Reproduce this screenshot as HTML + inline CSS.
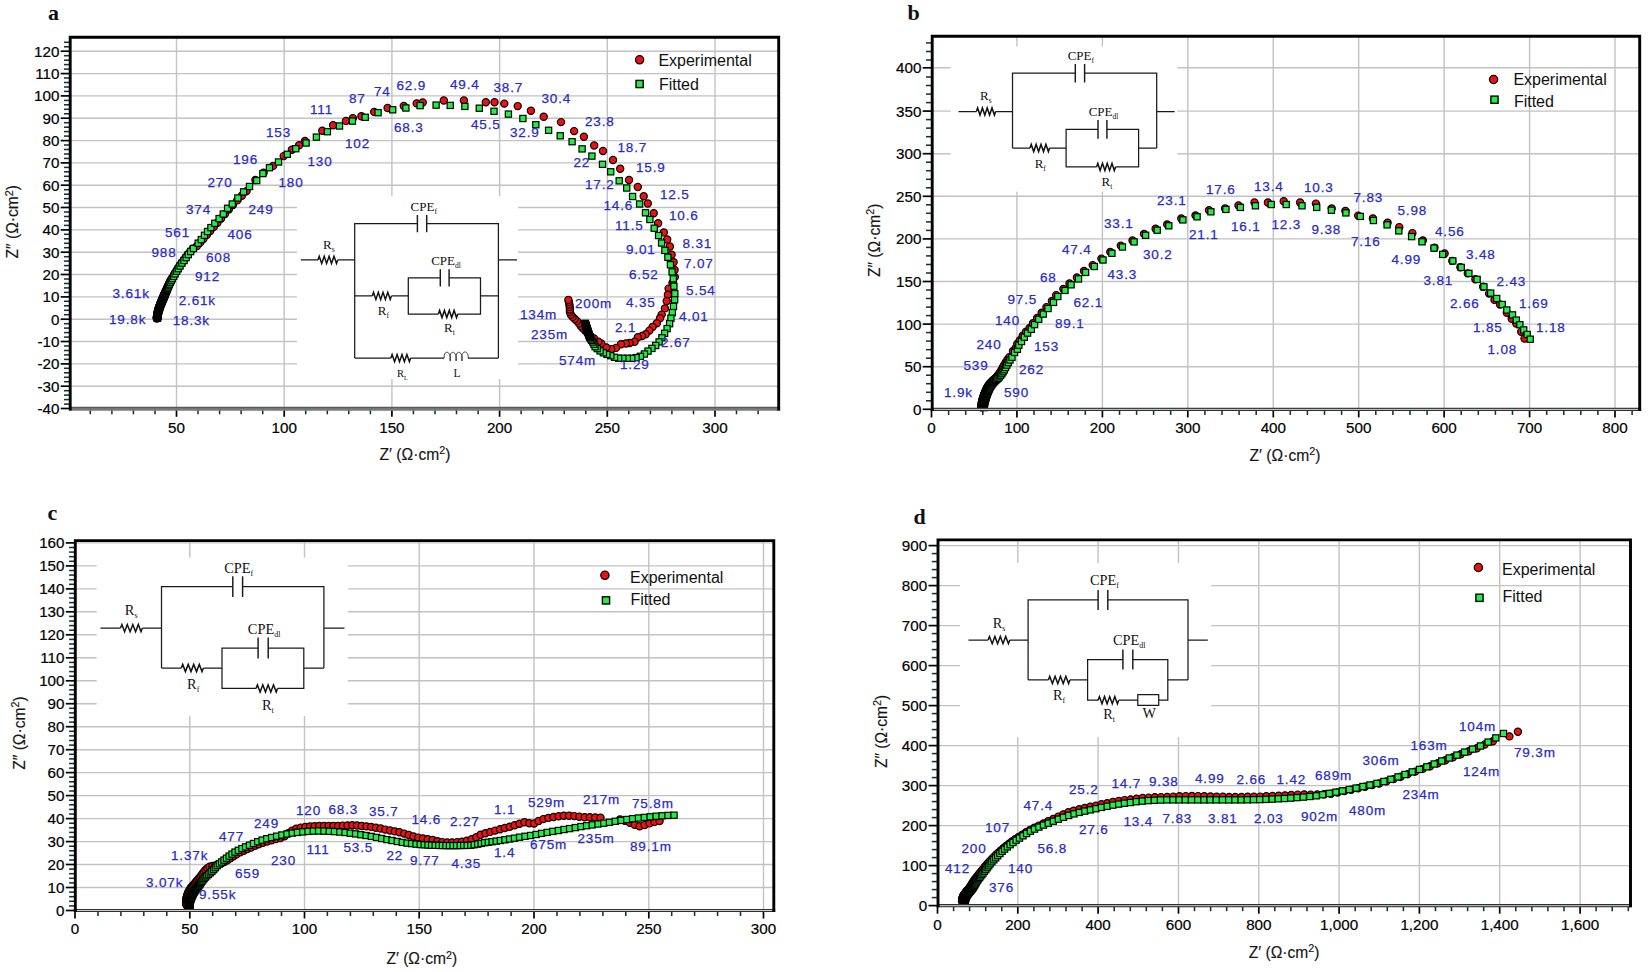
<!DOCTYPE html>
<html lang="en"><head><meta charset="utf-8"><title>Nyquist plots</title>
<style>html,body{margin:0;padding:0;background:#fff}svg{display:block}</style></head>
<body>
<svg width="1650" height="972" viewBox="0 0 1650 972">
<rect width="1650" height="972" fill="#fff"/>
<g stroke="#c4c2c2" stroke-width="1.4" fill="none">
<path d="M70.2 408.5H778.7"/>
<path d="M70.2 386.2H778.7"/>
<path d="M70.2 363.9H778.7"/>
<path d="M70.2 341.5H778.7"/>
<path d="M70.2 319.2H778.7"/>
<path d="M70.2 296.9H778.7"/>
<path d="M70.2 274.5H778.7"/>
<path d="M70.2 252.2H778.7"/>
<path d="M70.2 229.9H778.7"/>
<path d="M70.2 207.5H778.7"/>
<path d="M70.2 185.2H778.7"/>
<path d="M70.2 162.9H778.7"/>
<path d="M70.2 140.6H778.7"/>
<path d="M70.2 118.2H778.7"/>
<path d="M70.2 95.9H778.7"/>
<path d="M70.2 73.6H778.7"/>
<path d="M70.2 51.2H778.7"/>
<path d="M176.5 37.2V408.8"/>
<path d="M284.2 37.2V408.8"/>
<path d="M391.9 37.2V408.8"/>
<path d="M499.6 37.2V408.8"/>
<path d="M607.3 37.2V408.8"/>
<path d="M715 37.2V408.8"/>
</g>
<rect x="297" y="196" width="221" height="183" fill="#fff"/>
<g stroke="#123634" stroke-width="1.55">
<path d="M64 404.1H70.2"/>
<path d="M64 399.6H70.2"/>
<path d="M64 395.1H70.2"/>
<path d="M64 390.7H70.2"/>
<path d="M64 381.7H70.2"/>
<path d="M64 377.3H70.2"/>
<path d="M64 372.8H70.2"/>
<path d="M64 368.3H70.2"/>
<path d="M64 359.4H70.2"/>
<path d="M64 354.9H70.2"/>
<path d="M64 350.5H70.2"/>
<path d="M64 346H70.2"/>
<path d="M64 337.1H70.2"/>
<path d="M64 332.6H70.2"/>
<path d="M64 328.1H70.2"/>
<path d="M64 323.7H70.2"/>
<path d="M64 314.7H70.2"/>
<path d="M64 310.3H70.2"/>
<path d="M64 305.8H70.2"/>
<path d="M64 301.3H70.2"/>
<path d="M64 292.4H70.2"/>
<path d="M64 287.9H70.2"/>
<path d="M64 283.5H70.2"/>
<path d="M64 279H70.2"/>
<path d="M64 270.1H70.2"/>
<path d="M64 265.6H70.2"/>
<path d="M64 261.1H70.2"/>
<path d="M64 256.7H70.2"/>
<path d="M64 247.7H70.2"/>
<path d="M64 243.3H70.2"/>
<path d="M64 238.8H70.2"/>
<path d="M64 234.3H70.2"/>
<path d="M64 225.4H70.2"/>
<path d="M64 220.9H70.2"/>
<path d="M64 216.5H70.2"/>
<path d="M64 212H70.2"/>
<path d="M64 203.1H70.2"/>
<path d="M64 198.6H70.2"/>
<path d="M64 194.2H70.2"/>
<path d="M64 189.7H70.2"/>
<path d="M64 180.8H70.2"/>
<path d="M64 176.3H70.2"/>
<path d="M64 171.8H70.2"/>
<path d="M64 167.4H70.2"/>
<path d="M64 158.4H70.2"/>
<path d="M64 154H70.2"/>
<path d="M64 149.5H70.2"/>
<path d="M64 145H70.2"/>
<path d="M64 136.1H70.2"/>
<path d="M64 131.6H70.2"/>
<path d="M64 127.2H70.2"/>
<path d="M64 122.7H70.2"/>
<path d="M64 113.8H70.2"/>
<path d="M64 109.3H70.2"/>
<path d="M64 104.8H70.2"/>
<path d="M64 100.4H70.2"/>
<path d="M64 91.4H70.2"/>
<path d="M64 87H70.2"/>
<path d="M64 82.5H70.2"/>
<path d="M64 78H70.2"/>
<path d="M64 69.1H70.2"/>
<path d="M64 64.6H70.2"/>
<path d="M64 60.2H70.2"/>
<path d="M64 55.7H70.2"/>
<path d="M64 46.8H70.2"/>
<path d="M64 42.3H70.2"/>
<path d="M90.3 408.8V414.3"/>
<path d="M111.9 408.8V414.3"/>
<path d="M133.4 408.8V414.3"/>
<path d="M155 408.8V414.3"/>
<path d="M198 408.8V414.3"/>
<path d="M219.6 408.8V414.3"/>
<path d="M241.1 408.8V414.3"/>
<path d="M262.7 408.8V414.3"/>
<path d="M305.7 408.8V414.3"/>
<path d="M327.3 408.8V414.3"/>
<path d="M348.8 408.8V414.3"/>
<path d="M370.4 408.8V414.3"/>
<path d="M413.4 408.8V414.3"/>
<path d="M435 408.8V414.3"/>
<path d="M456.5 408.8V414.3"/>
<path d="M478.1 408.8V414.3"/>
<path d="M521.1 408.8V414.3"/>
<path d="M542.7 408.8V414.3"/>
<path d="M564.2 408.8V414.3"/>
<path d="M585.8 408.8V414.3"/>
<path d="M628.8 408.8V414.3"/>
<path d="M650.4 408.8V414.3"/>
<path d="M671.9 408.8V414.3"/>
<path d="M693.5 408.8V414.3"/>
<path d="M736.5 408.8V414.3"/>
<path d="M758.1 408.8V414.3"/>
</g>
<g stroke="#000" stroke-width="1.7">
<path d="M60.7 408.5H70.2"/>
<path d="M60.7 386.2H70.2"/>
<path d="M60.7 363.9H70.2"/>
<path d="M60.7 341.5H70.2"/>
<path d="M60.7 319.2H70.2"/>
<path d="M60.7 296.9H70.2"/>
<path d="M60.7 274.5H70.2"/>
<path d="M60.7 252.2H70.2"/>
<path d="M60.7 229.9H70.2"/>
<path d="M60.7 207.5H70.2"/>
<path d="M60.7 185.2H70.2"/>
<path d="M60.7 162.9H70.2"/>
<path d="M60.7 140.6H70.2"/>
<path d="M60.7 118.2H70.2"/>
<path d="M60.7 95.9H70.2"/>
<path d="M60.7 73.6H70.2"/>
<path d="M60.7 51.2H70.2"/>
<path d="M176.5 408.8V416.8"/>
<path d="M284.2 408.8V416.8"/>
<path d="M391.9 408.8V416.8"/>
<path d="M499.6 408.8V416.8"/>
<path d="M607.3 408.8V416.8"/>
<path d="M715 408.8V416.8"/>
</g>
<g fill="#000" stroke="#000" stroke-width="0.2" font-family="'Liberation Sans', Arial, sans-serif" font-size="15.2">
<text x="59.4" y="414" text-anchor="end">-40</text>
<text x="59.4" y="391.7" text-anchor="end">-30</text>
<text x="59.4" y="369.4" text-anchor="end">-20</text>
<text x="59.4" y="347" text-anchor="end">-10</text>
<text x="59.4" y="324.7" text-anchor="end">0</text>
<text x="59.4" y="302.4" text-anchor="end">10</text>
<text x="59.4" y="280" text-anchor="end">20</text>
<text x="59.4" y="257.7" text-anchor="end">30</text>
<text x="59.4" y="235.4" text-anchor="end">40</text>
<text x="59.4" y="213" text-anchor="end">50</text>
<text x="59.4" y="190.7" text-anchor="end">60</text>
<text x="59.4" y="168.4" text-anchor="end">70</text>
<text x="59.4" y="146.1" text-anchor="end">80</text>
<text x="59.4" y="123.7" text-anchor="end">90</text>
<text x="59.4" y="101.4" text-anchor="end">100</text>
<text x="59.4" y="79.1" text-anchor="end">110</text>
<text x="59.4" y="56.7" text-anchor="end">120</text>
<text x="176.5" y="432.7" text-anchor="middle">50</text>
<text x="284.2" y="432.7" text-anchor="middle">100</text>
<text x="391.9" y="432.7" text-anchor="middle">150</text>
<text x="499.6" y="432.7" text-anchor="middle">200</text>
<text x="607.3" y="432.7" text-anchor="middle">250</text>
<text x="715" y="432.7" text-anchor="middle">300</text>
</g>
<text x="415" y="460" text-anchor="middle" font-family="'Liberation Sans', Arial, sans-serif" font-size="15.6" fill="#151515" stroke="#151515" stroke-width="0.15">Z′ (Ω·cm<tspan font-size="10.8" dy="-5.6">2</tspan><tspan dy="5.6">)</tspan></text>
<text transform="translate(18.2 221.7) rotate(-90)" text-anchor="middle" font-family="'Liberation Sans', Arial, sans-serif" font-size="15.6" fill="#151515" stroke="#151515" stroke-width="0.15">Z″ (Ω·cm<tspan font-size="10.8" dy="-5.6">2</tspan><tspan dy="5.6">)</tspan></text>
<text x="48" y="20.2" font-family="'Liberation Serif', 'Times New Roman', serif" font-size="22" font-weight="bold" fill="#111">a</text>
<g fill="#ee1111" stroke="#000" stroke-width="1.2">
<circle cx="156.8" cy="318.5" r="3.6"/>
<circle cx="156.8" cy="318.1" r="3.6"/>
<circle cx="156.9" cy="317.7" r="3.6"/>
<circle cx="156.9" cy="317.3" r="3.6"/>
<circle cx="157" cy="316.9" r="3.6"/>
<circle cx="157" cy="316.5" r="3.6"/>
<circle cx="157.1" cy="316.1" r="3.6"/>
<circle cx="157.1" cy="315.7" r="3.6"/>
<circle cx="157.2" cy="315.3" r="3.6"/>
<circle cx="157.2" cy="314.8" r="3.6"/>
<circle cx="157.3" cy="314.4" r="3.6"/>
<circle cx="157.4" cy="314" r="3.6"/>
<circle cx="157.4" cy="313.6" r="3.6"/>
<circle cx="157.5" cy="313.2" r="3.6"/>
<circle cx="157.6" cy="312.7" r="3.6"/>
<circle cx="157.7" cy="312.3" r="3.6"/>
<circle cx="157.8" cy="311.9" r="3.6"/>
<circle cx="157.9" cy="311.4" r="3.6"/>
<circle cx="158" cy="311" r="3.6"/>
<circle cx="158.1" cy="310.6" r="3.6"/>
<circle cx="158.2" cy="310.2" r="3.6"/>
<circle cx="158.3" cy="309.7" r="3.6"/>
<circle cx="158.5" cy="309.3" r="3.6"/>
<circle cx="158.6" cy="308.8" r="3.6"/>
<circle cx="158.8" cy="308.4" r="3.6"/>
<circle cx="158.9" cy="308" r="3.6"/>
<circle cx="159.1" cy="307.5" r="3.6"/>
<circle cx="159.2" cy="307.1" r="3.6"/>
<circle cx="159.4" cy="306.6" r="3.6"/>
<circle cx="159.5" cy="306.2" r="3.6"/>
<circle cx="159.7" cy="305.7" r="3.6"/>
<circle cx="159.9" cy="305.3" r="3.6"/>
<circle cx="160" cy="304.8" r="3.6"/>
<circle cx="160.2" cy="304.4" r="3.6"/>
<circle cx="160.4" cy="303.9" r="3.6"/>
<circle cx="160.6" cy="303.5" r="3.6"/>
<circle cx="160.8" cy="303" r="3.6"/>
<circle cx="161" cy="302.6" r="3.6"/>
<circle cx="161.1" cy="302.1" r="3.6"/>
<circle cx="161.3" cy="301.6" r="3.6"/>
<circle cx="161.5" cy="301.2" r="3.6"/>
<circle cx="161.7" cy="300.7" r="3.6"/>
<circle cx="161.9" cy="300.2" r="3.6"/>
<circle cx="162.1" cy="299.7" r="3.6"/>
<circle cx="162.3" cy="299.3" r="3.6"/>
<circle cx="162.5" cy="298.8" r="3.6"/>
<circle cx="162.8" cy="298.3" r="3.6"/>
<circle cx="163" cy="297.8" r="3.6"/>
<circle cx="163.2" cy="297.3" r="3.6"/>
<circle cx="163.4" cy="296.8" r="3.6"/>
<circle cx="163.6" cy="296.3" r="3.6"/>
<circle cx="163.8" cy="295.8" r="3.6"/>
<circle cx="164" cy="295.3" r="3.6"/>
<circle cx="164.2" cy="294.8" r="3.6"/>
<circle cx="164.5" cy="294.3" r="3.6"/>
<circle cx="164.7" cy="293.7" r="3.6"/>
<circle cx="165" cy="293" r="3.6"/>
<circle cx="165.3" cy="292.3" r="3.6"/>
<circle cx="165.7" cy="291.5" r="3.6"/>
<circle cx="166.1" cy="290.6" r="3.6"/>
<circle cx="166.5" cy="289.6" r="3.6"/>
<circle cx="167" cy="288.4" r="3.6"/>
<circle cx="167.5" cy="287.2" r="3.6"/>
<circle cx="168.1" cy="285.9" r="3.6"/>
<circle cx="168.8" cy="284.4" r="3.6"/>
<circle cx="169.6" cy="282.7" r="3.6"/>
<circle cx="170.6" cy="280.9" r="3.6"/>
<circle cx="171.7" cy="278.9" r="3.6"/>
<circle cx="173.1" cy="276.6" r="3.6"/>
<circle cx="174.5" cy="274.1" r="3.6"/>
<circle cx="176.1" cy="271.5" r="3.6"/>
<circle cx="177.7" cy="268.9" r="3.6"/>
<circle cx="179.4" cy="266.2" r="3.6"/>
<circle cx="181.3" cy="263.4" r="3.6"/>
<circle cx="183.4" cy="260.7" r="3.6"/>
<circle cx="185.5" cy="257.8" r="3.6"/>
<circle cx="187.7" cy="254.8" r="3.6"/>
<circle cx="190.1" cy="251.7" r="3.6"/>
<circle cx="192.8" cy="248.7" r="3.6"/>
<circle cx="197" cy="246" r="3.6"/>
<circle cx="200.2" cy="242.4" r="3.6"/>
<circle cx="203.5" cy="238.7" r="3.6"/>
<circle cx="206.8" cy="234.9" r="3.6"/>
<circle cx="210.2" cy="231" r="3.6"/>
<circle cx="213.8" cy="226.9" r="3.6"/>
<circle cx="217.4" cy="222.8" r="3.6"/>
<circle cx="221.1" cy="218.5" r="3.6"/>
<circle cx="224.9" cy="214.1" r="3.6"/>
<circle cx="228.8" cy="209.6" r="3.6"/>
<circle cx="232.9" cy="205" r="3.6"/>
<circle cx="237.2" cy="200.4" r="3.6"/>
<circle cx="241.8" cy="195.7" r="3.6"/>
<circle cx="246.6" cy="191.1" r="3.6"/>
<circle cx="255.4" cy="180" r="3.6"/>
<circle cx="263.6" cy="172.8" r="3.6"/>
<circle cx="273.1" cy="165.9" r="3.6"/>
<circle cx="283.7" cy="156.1" r="3.6"/>
<circle cx="291.9" cy="149.7" r="3.6"/>
<circle cx="299.1" cy="145.3" r="3.6"/>
<circle cx="305" cy="141" r="3.6"/>
<circle cx="322.3" cy="130.7" r="3.6"/>
<circle cx="333.1" cy="125.3" r="3.6"/>
<circle cx="345.9" cy="120.9" r="3.6"/>
<circle cx="352.9" cy="118.3" r="3.6"/>
<circle cx="361.4" cy="116.3" r="3.6"/>
<circle cx="374.2" cy="111.9" r="3.6"/>
<circle cx="387.6" cy="108" r="3.6"/>
<circle cx="403.8" cy="106" r="3.6"/>
<circle cx="416.7" cy="103.4" r="3.6"/>
<circle cx="422.7" cy="102.5" r="3.6"/>
<circle cx="443.8" cy="100.5" r="3.6"/>
<circle cx="463.9" cy="100.5" r="3.6"/>
<circle cx="485.8" cy="102.3" r="3.6"/>
<circle cx="494.5" cy="102.3" r="3.6"/>
<circle cx="504.3" cy="103.6" r="3.6"/>
<circle cx="517.7" cy="106.1" r="3.6"/>
<circle cx="530.9" cy="110.8" r="3.6"/>
<circle cx="543.7" cy="116.7" r="3.6"/>
<circle cx="561" cy="122.1" r="3.6"/>
<circle cx="574.1" cy="131.1" r="3.6"/>
<circle cx="583.9" cy="136.8" r="3.6"/>
<circle cx="594.2" cy="145.5" r="3.6"/>
<circle cx="603" cy="151" r="3.6"/>
<circle cx="613" cy="160" r="3.6"/>
<circle cx="620.2" cy="168.7" r="3.6"/>
<circle cx="629" cy="180" r="3.6"/>
<circle cx="637.8" cy="187" r="3.6"/>
<circle cx="643.7" cy="196.3" r="3.6"/>
<circle cx="647.8" cy="203.5" r="3.6"/>
<circle cx="653.7" cy="213.3" r="3.6"/>
<circle cx="658.1" cy="223.3" r="3.6"/>
<circle cx="663.8" cy="232.4" r="3.6"/>
<circle cx="667.2" cy="239.5" r="3.6"/>
<circle cx="669.9" cy="246.5" r="3.6"/>
<circle cx="671.6" cy="254.8" r="3.6"/>
<circle cx="673.6" cy="262.2" r="3.6"/>
<circle cx="674.6" cy="270" r="3.6"/>
<circle cx="674.8" cy="277" r="3.6"/>
<circle cx="672.5" cy="283" r="3.6"/>
<circle cx="668.6" cy="288.6" r="3.6"/>
<circle cx="667.9" cy="294.8" r="3.6"/>
<circle cx="666.7" cy="301" r="3.6"/>
<circle cx="664.9" cy="308.4" r="3.6"/>
<circle cx="661.7" cy="314.6" r="3.6"/>
<circle cx="660" cy="318.3" r="3.6"/>
<circle cx="656.8" cy="323.2" r="3.6"/>
<circle cx="652.6" cy="326.9" r="3.6"/>
<circle cx="649.4" cy="330.6" r="3.6"/>
<circle cx="645.7" cy="334.3" r="3.6"/>
<circle cx="642" cy="336" r="3.6"/>
<circle cx="637.8" cy="337.3" r="3.6"/>
<circle cx="634.6" cy="341.7" r="3.6"/>
<circle cx="629.6" cy="343" r="3.6"/>
<circle cx="625.9" cy="343.5" r="3.6"/>
<circle cx="621" cy="344.2" r="3.6"/>
<circle cx="616" cy="347.9" r="3.6"/>
<circle cx="611.1" cy="349.1" r="3.6"/>
<circle cx="606.2" cy="347.4" r="3.6"/>
<circle cx="601.2" cy="343.5" r="3.6"/>
<circle cx="598.3" cy="341.7" r="3.6"/>
<circle cx="594" cy="338.5" r="3.6"/>
<circle cx="590" cy="335.5" r="3.6"/>
<circle cx="590" cy="335.5" r="3.6"/>
<circle cx="587.6" cy="333.1" r="3.6"/>
<circle cx="585.3" cy="330.7" r="3.6"/>
<circle cx="582.9" cy="328.4" r="3.6"/>
<circle cx="580.8" cy="326" r="3.6"/>
<circle cx="579" cy="323.4" r="3.6"/>
<circle cx="577" cy="321.1" r="3.6"/>
<circle cx="574.8" cy="319" r="3.6"/>
<circle cx="572.6" cy="316.9" r="3.6"/>
<circle cx="570.9" cy="314.7" r="3.6"/>
<circle cx="569.9" cy="312.1" r="3.6"/>
<circle cx="569.9" cy="309.5" r="3.6"/>
<circle cx="569.7" cy="306.9" r="3.6"/>
<circle cx="569.4" cy="304.5" r="3.6"/>
<circle cx="568.9" cy="302.1" r="3.6"/>
<circle cx="568.4" cy="299.9" r="3.6"/>
</g>
<g fill="#22ee44" stroke="#000" stroke-width="1.2">
<rect x="154.3" y="315.2" width="6.2" height="6.2"/>
<rect x="154.3" y="314.8" width="6.2" height="6.2"/>
<rect x="154.4" y="314.4" width="6.2" height="6.2"/>
<rect x="154.4" y="314" width="6.2" height="6.2"/>
<rect x="154.5" y="313.6" width="6.2" height="6.2"/>
<rect x="154.5" y="313.2" width="6.2" height="6.2"/>
<rect x="154.6" y="312.8" width="6.2" height="6.2"/>
<rect x="154.6" y="312.4" width="6.2" height="6.2"/>
<rect x="154.7" y="312" width="6.2" height="6.2"/>
<rect x="154.7" y="311.5" width="6.2" height="6.2"/>
<rect x="154.8" y="311.1" width="6.2" height="6.2"/>
<rect x="154.9" y="310.7" width="6.2" height="6.2"/>
<rect x="154.9" y="310.3" width="6.2" height="6.2"/>
<rect x="155" y="309.9" width="6.2" height="6.2"/>
<rect x="155.1" y="309.4" width="6.2" height="6.2"/>
<rect x="155.2" y="309" width="6.2" height="6.2"/>
<rect x="155.3" y="308.6" width="6.2" height="6.2"/>
<rect x="155.4" y="308.1" width="6.2" height="6.2"/>
<rect x="155.5" y="307.7" width="6.2" height="6.2"/>
<rect x="155.6" y="307.3" width="6.2" height="6.2"/>
<rect x="155.7" y="306.9" width="6.2" height="6.2"/>
<rect x="155.8" y="306.4" width="6.2" height="6.2"/>
<rect x="156" y="306" width="6.2" height="6.2"/>
<rect x="156.1" y="305.5" width="6.2" height="6.2"/>
<rect x="156.3" y="305.1" width="6.2" height="6.2"/>
<rect x="156.4" y="304.7" width="6.2" height="6.2"/>
<rect x="156.6" y="304.2" width="6.2" height="6.2"/>
<rect x="156.7" y="303.8" width="6.2" height="6.2"/>
<rect x="156.9" y="303.3" width="6.2" height="6.2"/>
<rect x="157" y="302.9" width="6.2" height="6.2"/>
<rect x="157.2" y="302.4" width="6.2" height="6.2"/>
<rect x="157.4" y="302" width="6.2" height="6.2"/>
<rect x="157.5" y="301.5" width="6.2" height="6.2"/>
<rect x="157.7" y="301.1" width="6.2" height="6.2"/>
<rect x="157.9" y="300.6" width="6.2" height="6.2"/>
<rect x="158.1" y="300.2" width="6.2" height="6.2"/>
<rect x="158.3" y="299.7" width="6.2" height="6.2"/>
<rect x="158.5" y="299.3" width="6.2" height="6.2"/>
<rect x="158.6" y="298.8" width="6.2" height="6.2"/>
<rect x="158.8" y="298.3" width="6.2" height="6.2"/>
<rect x="159" y="297.9" width="6.2" height="6.2"/>
<rect x="159.2" y="297.4" width="6.2" height="6.2"/>
<rect x="159.4" y="296.9" width="6.2" height="6.2"/>
<rect x="159.6" y="296.4" width="6.2" height="6.2"/>
<rect x="159.8" y="296" width="6.2" height="6.2"/>
<rect x="160" y="295.5" width="6.2" height="6.2"/>
<rect x="160.3" y="295" width="6.2" height="6.2"/>
<rect x="160.5" y="294.5" width="6.2" height="6.2"/>
<rect x="160.7" y="294" width="6.2" height="6.2"/>
<rect x="160.9" y="293.5" width="6.2" height="6.2"/>
<rect x="161.1" y="293" width="6.2" height="6.2"/>
<rect x="161.3" y="292.5" width="6.2" height="6.2"/>
<rect x="161.5" y="292" width="6.2" height="6.2"/>
<rect x="161.7" y="291.5" width="6.2" height="6.2"/>
<rect x="162" y="291" width="6.2" height="6.2"/>
<rect x="162.2" y="290.4" width="6.2" height="6.2"/>
<rect x="162.5" y="289.7" width="6.2" height="6.2"/>
<rect x="162.8" y="289" width="6.2" height="6.2"/>
<rect x="163.2" y="288.2" width="6.2" height="6.2"/>
<rect x="163.6" y="287.3" width="6.2" height="6.2"/>
<rect x="164" y="286.3" width="6.2" height="6.2"/>
<rect x="164.5" y="285.1" width="6.2" height="6.2"/>
<rect x="165" y="283.9" width="6.2" height="6.2"/>
<rect x="165.6" y="282.6" width="6.2" height="6.2"/>
<rect x="166.3" y="281.1" width="6.2" height="6.2"/>
<rect x="167.1" y="279.4" width="6.2" height="6.2"/>
<rect x="168.1" y="277.6" width="6.2" height="6.2"/>
<rect x="169.2" y="275.6" width="6.2" height="6.2"/>
<rect x="170.6" y="273.3" width="6.2" height="6.2"/>
<rect x="172" y="270.8" width="6.2" height="6.2"/>
<rect x="173.6" y="268.2" width="6.2" height="6.2"/>
<rect x="175.2" y="265.6" width="6.2" height="6.2"/>
<rect x="176.9" y="262.9" width="6.2" height="6.2"/>
<rect x="178.8" y="260.1" width="6.2" height="6.2"/>
<rect x="180.9" y="257.4" width="6.2" height="6.2"/>
<rect x="183" y="254.5" width="6.2" height="6.2"/>
<rect x="185.2" y="251.5" width="6.2" height="6.2"/>
<rect x="187.6" y="248.4" width="6.2" height="6.2"/>
<rect x="190.3" y="245.4" width="6.2" height="6.2"/>
<rect x="195.1" y="240.1" width="6.2" height="6.2"/>
<rect x="198.2" y="236.5" width="6.2" height="6.2"/>
<rect x="201.4" y="232.2" width="6.2" height="6.2"/>
<rect x="204.5" y="228.4" width="6.2" height="6.2"/>
<rect x="207.8" y="224.5" width="6.2" height="6.2"/>
<rect x="211.7" y="220.2" width="6.2" height="6.2"/>
<rect x="216" y="215.5" width="6.2" height="6.2"/>
<rect x="220.2" y="210.9" width="6.2" height="6.2"/>
<rect x="224.5" y="205.2" width="6.2" height="6.2"/>
<rect x="229.2" y="200.9" width="6.2" height="6.2"/>
<rect x="234.8" y="194.9" width="6.2" height="6.2"/>
<rect x="240.5" y="188.8" width="6.2" height="6.2"/>
<rect x="246.4" y="183.4" width="6.2" height="6.2"/>
<rect x="253.6" y="177.5" width="6.2" height="6.2"/>
<rect x="259.8" y="170.5" width="6.2" height="6.2"/>
<rect x="266.4" y="164.6" width="6.2" height="6.2"/>
<rect x="275.4" y="158.9" width="6.2" height="6.2"/>
<rect x="284.2" y="151.2" width="6.2" height="6.2"/>
<rect x="292.7" y="145.6" width="6.2" height="6.2"/>
<rect x="303" y="139.9" width="6.2" height="6.2"/>
<rect x="313.3" y="134" width="6.2" height="6.2"/>
<rect x="324.3" y="128.6" width="6.2" height="6.2"/>
<rect x="336.4" y="122.9" width="6.2" height="6.2"/>
<rect x="349.3" y="118" width="6.2" height="6.2"/>
<rect x="362.1" y="114.2" width="6.2" height="6.2"/>
<rect x="375" y="109.6" width="6.2" height="6.2"/>
<rect x="389.6" y="106.7" width="6.2" height="6.2"/>
<rect x="402.8" y="104.9" width="6.2" height="6.2"/>
<rect x="417" y="102.5" width="6.2" height="6.2"/>
<rect x="433" y="102" width="6.2" height="6.2"/>
<rect x="447.1" y="102.3" width="6.2" height="6.2"/>
<rect x="461.8" y="103.3" width="6.2" height="6.2"/>
<rect x="476.2" y="105.1" width="6.2" height="6.2"/>
<rect x="490.9" y="108.2" width="6.2" height="6.2"/>
<rect x="505.3" y="111" width="6.2" height="6.2"/>
<rect x="519.8" y="115.4" width="6.2" height="6.2"/>
<rect x="532.7" y="121.6" width="6.2" height="6.2"/>
<rect x="545.5" y="127.2" width="6.2" height="6.2"/>
<rect x="557.1" y="132.7" width="6.2" height="6.2"/>
<rect x="569" y="138.6" width="6.2" height="6.2"/>
<rect x="579" y="145.8" width="6.2" height="6.2"/>
<rect x="588.8" y="153" width="6.2" height="6.2"/>
<rect x="599.4" y="161.2" width="6.2" height="6.2"/>
<rect x="607.6" y="168.7" width="6.2" height="6.2"/>
<rect x="616.1" y="177.7" width="6.2" height="6.2"/>
<rect x="623.6" y="184.9" width="6.2" height="6.2"/>
<rect x="629.5" y="193.4" width="6.2" height="6.2"/>
<rect x="636.5" y="200.9" width="6.2" height="6.2"/>
<rect x="642.4" y="209.7" width="6.2" height="6.2"/>
<rect x="646.8" y="216.4" width="6.2" height="6.2"/>
<rect x="651.1" y="225.1" width="6.2" height="6.2"/>
<rect x="655.5" y="232.4" width="6.2" height="6.2"/>
<rect x="658.5" y="239.9" width="6.2" height="6.2"/>
<rect x="661.8" y="247.3" width="6.2" height="6.2"/>
<rect x="664.8" y="254.2" width="6.2" height="6.2"/>
<rect x="667.3" y="261.6" width="6.2" height="6.2"/>
<rect x="669" y="268.8" width="6.2" height="6.2"/>
<rect x="670.2" y="275.7" width="6.2" height="6.2"/>
<rect x="670.8" y="283.1" width="6.2" height="6.2"/>
<rect x="671.7" y="290.5" width="6.2" height="6.2"/>
<rect x="671.5" y="296.7" width="6.2" height="6.2"/>
<rect x="670.4" y="303.3" width="6.2" height="6.2"/>
<rect x="669.2" y="309.5" width="6.2" height="6.2"/>
<rect x="667.8" y="315.1" width="6.2" height="6.2"/>
<rect x="666.5" y="320.6" width="6.2" height="6.2"/>
<rect x="664" y="325.5" width="6.2" height="6.2"/>
<rect x="661.5" y="330.2" width="6.2" height="6.2"/>
<rect x="658.8" y="334.7" width="6.2" height="6.2"/>
<rect x="656" y="338.8" width="6.2" height="6.2"/>
<rect x="652.6" y="342.4" width="6.2" height="6.2"/>
<rect x="648.8" y="345.3" width="6.2" height="6.2"/>
<rect x="644.9" y="348" width="6.2" height="6.2"/>
<rect x="641.3" y="350.9" width="6.2" height="6.2"/>
<rect x="637.3" y="353.2" width="6.2" height="6.2"/>
<rect x="633" y="354.5" width="6.2" height="6.2"/>
<rect x="628.6" y="355.2" width="6.2" height="6.2"/>
<rect x="624.2" y="355.2" width="6.2" height="6.2"/>
<rect x="619.8" y="355.2" width="6.2" height="6.2"/>
<rect x="615.5" y="355.1" width="6.2" height="6.2"/>
<rect x="611.4" y="354.2" width="6.2" height="6.2"/>
<rect x="607.7" y="352.6" width="6.2" height="6.2"/>
<rect x="603.9" y="351.3" width="6.2" height="6.2"/>
<rect x="600.3" y="349.7" width="6.2" height="6.2"/>
<rect x="597" y="347.8" width="6.2" height="6.2"/>
<rect x="594.1" y="345.5" width="6.2" height="6.2"/>
<rect x="592" y="343.6" width="6.2" height="6.2"/>
<rect x="590.8" y="341.1" width="6.2" height="6.2"/>
<rect x="589.7" y="338.9" width="6.2" height="6.2"/>
<rect x="588.6" y="337.2" width="6.2" height="6.2"/>
<rect x="587.5" y="335.8" width="6.2" height="6.2"/>
<rect x="586.8" y="334.5" width="6.2" height="6.2"/>
<rect x="586.4" y="333.4" width="6.2" height="6.2"/>
<rect x="586" y="332.4" width="6.2" height="6.2"/>
<rect x="585.8" y="331.6" width="6.2" height="6.2"/>
<rect x="585.6" y="330.9" width="6.2" height="6.2"/>
<rect x="585.4" y="330.4" width="6.2" height="6.2"/>
<rect x="585.2" y="329.8" width="6.2" height="6.2"/>
<rect x="585" y="329.3" width="6.2" height="6.2"/>
<rect x="584.8" y="328.7" width="6.2" height="6.2"/>
<rect x="584.6" y="328.2" width="6.2" height="6.2"/>
<rect x="584.5" y="327.6" width="6.2" height="6.2"/>
<rect x="584.3" y="327.1" width="6.2" height="6.2"/>
<rect x="584.1" y="326.6" width="6.2" height="6.2"/>
<rect x="583.9" y="326.1" width="6.2" height="6.2"/>
<rect x="583.8" y="325.6" width="6.2" height="6.2"/>
<rect x="583.6" y="325.1" width="6.2" height="6.2"/>
<rect x="583.4" y="324.6" width="6.2" height="6.2"/>
<rect x="583.3" y="324.1" width="6.2" height="6.2"/>
<rect x="583.1" y="323.6" width="6.2" height="6.2"/>
<rect x="583" y="323.2" width="6.2" height="6.2"/>
<rect x="582.8" y="322.7" width="6.2" height="6.2"/>
<rect x="582.7" y="322.2" width="6.2" height="6.2"/>
<rect x="582.6" y="321.8" width="6.2" height="6.2"/>
<rect x="582.4" y="321.3" width="6.2" height="6.2"/>
<rect x="582.3" y="320.9" width="6.2" height="6.2"/>
<rect x="582.2" y="320.4" width="6.2" height="6.2"/>
</g>
<rect x="582.2" y="320.4" width="6.2" height="6.2" fill="#050505" stroke="#000" stroke-width="1.2"/>
<g fill="#2a2ac8" font-family="'Liberation Sans', Arial, sans-serif" font-size="13.5" letter-spacing="0.85" stroke="#2a2ac8" stroke-width="0.25">
<text x="112.5" y="298">3.61k</text>
<text x="109" y="323.5">19.8k</text>
<text x="172.7" y="325">18.3k</text>
<text x="178.7" y="305">2.61k</text>
<text x="195" y="281.3">912</text>
<text x="151.5" y="256.5">988</text>
<text x="206" y="261.5">608</text>
<text x="165" y="237">561</text>
<text x="227.5" y="239">406</text>
<text x="186" y="213.5">374</text>
<text x="248.5" y="213.5">249</text>
<text x="207.5" y="186.5">270</text>
<text x="278.5" y="186.5">180</text>
<text x="233" y="163.5">196</text>
<text x="307.5" y="166">130</text>
<text x="266" y="137">153</text>
<text x="345" y="147.5">102</text>
<text x="310" y="114">111</text>
<text x="349" y="102.5">87</text>
<text x="374" y="96">74</text>
<text x="396.5" y="90">62.9</text>
<text x="394" y="131.5">68.3</text>
<text x="450" y="88.5">49.4</text>
<text x="471" y="129">45.5</text>
<text x="493.5" y="91.5">38.7</text>
<text x="510" y="136.5">32.9</text>
<text x="541.5" y="102.5">30.4</text>
<text x="585" y="126">23.8</text>
<text x="573.5" y="166.5">22</text>
<text x="617.5" y="152">18.7</text>
<text x="585" y="189">17.2</text>
<text x="636" y="172">15.9</text>
<text x="603.5" y="210">14.6</text>
<text x="660" y="199">12.5</text>
<text x="615" y="230">11.5</text>
<text x="669" y="220">10.6</text>
<text x="626" y="254">9.01</text>
<text x="682.5" y="247.5">8.31</text>
<text x="684" y="267.5">7.07</text>
<text x="629" y="279">6.52</text>
<text x="686" y="295">5.54</text>
<text x="626" y="306.5">4.35</text>
<text x="679" y="321">4.01</text>
<text x="575" y="307.5">200m</text>
<text x="520" y="318.5">134m</text>
<text x="615" y="331.5">2.1</text>
<text x="531" y="338.5">235m</text>
<text x="661" y="347">2.67</text>
<text x="559" y="365">574m</text>
<text x="620" y="369">1.29</text>
</g>
<path d="M69.2 407.8H780.1" stroke="#5a5a5a" stroke-width="2" fill="none"/>
<path d="M69.2 409.8H780.1" stroke="#7b7b7b" stroke-width="2" fill="none"/>
<path d="M70.2 410.4V37.2H778.7V410.4" stroke="#000" stroke-width="2.9" fill="none" stroke-linejoin="miter"/>
<circle cx="639.6" cy="59.8" r="4.1" fill="#ee1111" stroke="#000" stroke-width="1.3"/>
<rect x="636" y="80.4" width="7.2" height="7.2" fill="#22ee44" stroke="#000" stroke-width="1.4"/>
<g font-family="'Liberation Sans', Arial, sans-serif" font-size="16" fill="#111"><text x="658.4" y="65.7">Experimental</text><text x="658.9" y="89.6">Fitted</text></g>
<path d="M300.8 259.9H318M337.7 259.9H354.7M354.7 358.1V223.7H417.4M426.7 223.7H498.4V358.1M498.4 259.9H517M354.7 295.9H372.3M391.4 295.9H408.3M480.5 295.9H498.4M440.3 277.8H408.3V314H438.4M457.7 314H480.5V277.8H449.1M354.7 358.1H390.9M410.6 358.1H444.1M467.9 358.1H498.4" fill="none" stroke="#1a1a1a" stroke-width="1.25" stroke-linejoin="miter"/>
<path d="M318 259.9L319.2 256.3L321.7 263.5L324.2 256.3L326.6 263.5L329.1 256.3L331.5 263.5L334 256.3L336.5 263.5L337.7 259.9M372.3 295.9L373.5 292.3L375.9 299.5L378.3 292.3L380.7 299.5L383 292.3L385.4 299.5L387.8 292.3L390.2 299.5L391.4 295.9M438.4 314L439.6 310.4L442 317.6L444.4 310.4L446.8 317.6L449.3 310.4L451.7 317.6L454.1 310.4L456.5 317.6L457.7 314M390.9 358.1L392.1 354.5L394.6 361.7L397.1 354.5L399.5 361.7L402 354.5L404.4 361.7L406.9 354.5L409.4 361.7L410.6 358.1" fill="none" stroke="#111" stroke-width="1.5" stroke-linejoin="miter"/>
<path d="M444.1 358.1C443.5 349.9 450.9 349.9 450.4 360.7C450.2 361.5 449.4 360.5 450.1 358.1C449.4 349.9 456.9 349.9 456.3 360.7C456.1 361.5 455.3 360.5 456 358.1C455.4 349.9 462.8 349.9 462.2 360.7C462.1 361.5 461.2 360.5 461.9 358.1C461.3 349.9 468.8 349.9 468.2 358.1" fill="none" stroke="#333" stroke-width="0.95"/>
<path d="M417.4 215.1V232.3M426.7 215.1V232.3M440.3 269.2V286.4M449.1 269.2V286.4" fill="none" stroke="#1a1a1a" stroke-width="1.45"/>
<text x="410.6" y="210.5" font-family="'Liberation Serif', 'Times New Roman', serif" font-size="13" fill="#111">CPE<tspan font-size="7.5" dy="3">f</tspan></text>
<text x="323" y="249" font-family="'Liberation Serif', 'Times New Roman', serif" font-size="13" fill="#111">R<tspan font-size="7.5" dy="3">s</tspan></text>
<text x="431.2" y="264.9" font-family="'Liberation Serif', 'Times New Roman', serif" font-size="13" fill="#111">CPE<tspan font-size="7.5" dy="3">dl</tspan></text>
<text x="377.8" y="314.5" font-family="'Liberation Serif', 'Times New Roman', serif" font-size="13" fill="#111">R<tspan font-size="7.5" dy="3">f</tspan></text>
<text x="444.1" y="332" font-family="'Liberation Serif', 'Times New Roman', serif" font-size="13" fill="#111">R<tspan font-size="7.5" dy="3">t</tspan></text>
<text x="397" y="377" font-family="'Liberation Serif', 'Times New Roman', serif" font-size="10.5" fill="#111">R<tspan font-size="6" dy="3">L</tspan></text>
<text x="453.5" y="377" font-family="'Liberation Serif', 'Times New Roman', serif" font-size="11.5" fill="#111">L<tspan font-size="6" dy="3"></tspan></text>
<g stroke="#c4c2c2" stroke-width="1.4" fill="none">
<path d="M932.2 409.3H1639.7"/>
<path d="M932.2 366.7H1639.7"/>
<path d="M932.2 324.1H1639.7"/>
<path d="M932.2 281.5H1639.7"/>
<path d="M932.2 238.9H1639.7"/>
<path d="M932.2 196.3H1639.7"/>
<path d="M932.2 153.7H1639.7"/>
<path d="M932.2 111.1H1639.7"/>
<path d="M932.2 67.8H1639.7"/>
<path d="M1016.9 36.2V409.4"/>
<path d="M1102.4 36.2V409.4"/>
<path d="M1187.8 36.2V409.4"/>
<path d="M1273.3 36.2V409.4"/>
<path d="M1358.7 36.2V409.4"/>
<path d="M1444.1 36.2V409.4"/>
<path d="M1529.6 36.2V409.4"/>
<path d="M1615 36.2V409.4"/>
</g>
<rect x="950.7" y="46.5" width="226.6" height="145.1" fill="#fff"/>
<g stroke="#123634" stroke-width="1.55">
<path d="M926 400.8H932.2"/>
<path d="M926 392.3H932.2"/>
<path d="M926 383.7H932.2"/>
<path d="M926 375.2H932.2"/>
<path d="M926 358.2H932.2"/>
<path d="M926 349.7H932.2"/>
<path d="M926 341.1H932.2"/>
<path d="M926 332.6H932.2"/>
<path d="M926 315.6H932.2"/>
<path d="M926 307.1H932.2"/>
<path d="M926 298.5H932.2"/>
<path d="M926 290H932.2"/>
<path d="M926 273H932.2"/>
<path d="M926 264.5H932.2"/>
<path d="M926 255.9H932.2"/>
<path d="M926 247.4H932.2"/>
<path d="M926 230.4H932.2"/>
<path d="M926 221.9H932.2"/>
<path d="M926 213.3H932.2"/>
<path d="M926 204.8H932.2"/>
<path d="M926 187.8H932.2"/>
<path d="M926 179.3H932.2"/>
<path d="M926 170.7H932.2"/>
<path d="M926 162.2H932.2"/>
<path d="M926 145.2H932.2"/>
<path d="M926 136.7H932.2"/>
<path d="M926 128.1H932.2"/>
<path d="M926 119.6H932.2"/>
<path d="M926 102.6H932.2"/>
<path d="M926 94.1H932.2"/>
<path d="M926 85.5H932.2"/>
<path d="M926 77H932.2"/>
<path d="M926 60H932.2"/>
<path d="M926 51.5H932.2"/>
<path d="M926 42.9H932.2"/>
<path d="M948.6 409.4V414.9"/>
<path d="M965.7 409.4V414.9"/>
<path d="M982.8 409.4V414.9"/>
<path d="M999.9 409.4V414.9"/>
<path d="M1034 409.4V414.9"/>
<path d="M1051.1 409.4V414.9"/>
<path d="M1068.2 409.4V414.9"/>
<path d="M1085.3 409.4V414.9"/>
<path d="M1119.5 409.4V414.9"/>
<path d="M1136.6 409.4V414.9"/>
<path d="M1153.6 409.4V414.9"/>
<path d="M1170.7 409.4V414.9"/>
<path d="M1204.9 409.4V414.9"/>
<path d="M1222 409.4V414.9"/>
<path d="M1239.1 409.4V414.9"/>
<path d="M1256.2 409.4V414.9"/>
<path d="M1290.3 409.4V414.9"/>
<path d="M1307.4 409.4V414.9"/>
<path d="M1324.5 409.4V414.9"/>
<path d="M1341.6 409.4V414.9"/>
<path d="M1375.8 409.4V414.9"/>
<path d="M1392.9 409.4V414.9"/>
<path d="M1410 409.4V414.9"/>
<path d="M1427.1 409.4V414.9"/>
<path d="M1461.2 409.4V414.9"/>
<path d="M1478.3 409.4V414.9"/>
<path d="M1495.4 409.4V414.9"/>
<path d="M1512.5 409.4V414.9"/>
<path d="M1546.7 409.4V414.9"/>
<path d="M1563.8 409.4V414.9"/>
<path d="M1580.8 409.4V414.9"/>
<path d="M1597.9 409.4V414.9"/>
<path d="M1632.1 409.4V414.9"/>
</g>
<g stroke="#000" stroke-width="1.7">
<path d="M922.7 409.3H932.2"/>
<path d="M922.7 366.7H932.2"/>
<path d="M922.7 324.1H932.2"/>
<path d="M922.7 281.5H932.2"/>
<path d="M922.7 238.9H932.2"/>
<path d="M922.7 196.3H932.2"/>
<path d="M922.7 153.7H932.2"/>
<path d="M922.7 111.1H932.2"/>
<path d="M922.7 67.8H932.2"/>
<path d="M931.5 409.4V417.4"/>
<path d="M1016.9 409.4V417.4"/>
<path d="M1102.4 409.4V417.4"/>
<path d="M1187.8 409.4V417.4"/>
<path d="M1273.3 409.4V417.4"/>
<path d="M1358.7 409.4V417.4"/>
<path d="M1444.1 409.4V417.4"/>
<path d="M1529.6 409.4V417.4"/>
<path d="M1615 409.4V417.4"/>
</g>
<g fill="#000" stroke="#000" stroke-width="0.2" font-family="'Liberation Sans', Arial, sans-serif" font-size="15.2">
<text x="921.4" y="414.8" text-anchor="end">0</text>
<text x="921.4" y="372.2" text-anchor="end">50</text>
<text x="921.4" y="329.6" text-anchor="end">100</text>
<text x="921.4" y="287" text-anchor="end">150</text>
<text x="921.4" y="244.4" text-anchor="end">200</text>
<text x="921.4" y="201.8" text-anchor="end">250</text>
<text x="921.4" y="159.2" text-anchor="end">300</text>
<text x="921.4" y="116.6" text-anchor="end">350</text>
<text x="921.4" y="73.3" text-anchor="end">400</text>
<text x="931.5" y="433" text-anchor="middle">0</text>
<text x="1016.9" y="433" text-anchor="middle">100</text>
<text x="1102.4" y="433" text-anchor="middle">200</text>
<text x="1187.8" y="433" text-anchor="middle">300</text>
<text x="1273.3" y="433" text-anchor="middle">400</text>
<text x="1358.7" y="433" text-anchor="middle">500</text>
<text x="1444.1" y="433" text-anchor="middle">600</text>
<text x="1529.6" y="433" text-anchor="middle">700</text>
<text x="1615" y="433" text-anchor="middle">800</text>
</g>
<text x="1285" y="461" text-anchor="middle" font-family="'Liberation Sans', Arial, sans-serif" font-size="15.6" fill="#151515" stroke="#151515" stroke-width="0.15">Z′ (Ω·cm<tspan font-size="10.8" dy="-5.6">2</tspan><tspan dy="5.6">)</tspan></text>
<text transform="translate(879.5 240.3) rotate(-90)" text-anchor="middle" font-family="'Liberation Sans', Arial, sans-serif" font-size="15.6" fill="#151515" stroke="#151515" stroke-width="0.15">Z″ (Ω·cm<tspan font-size="10.8" dy="-5.6">2</tspan><tspan dy="5.6">)</tspan></text>
<text x="907.5" y="20" font-family="'Liberation Serif', 'Times New Roman', serif" font-size="22" font-weight="bold" fill="#111">b</text>
<g fill="#ee1111" stroke="#000" stroke-width="1.2">
<circle cx="981.5" cy="407.4" r="3.6"/>
<circle cx="981.5" cy="406.9" r="3.6"/>
<circle cx="981.6" cy="406.4" r="3.6"/>
<circle cx="981.6" cy="405.9" r="3.6"/>
<circle cx="981.6" cy="405.3" r="3.6"/>
<circle cx="981.7" cy="404.8" r="3.6"/>
<circle cx="981.7" cy="404.3" r="3.6"/>
<circle cx="981.8" cy="403.7" r="3.6"/>
<circle cx="981.8" cy="403.1" r="3.6"/>
<circle cx="981.9" cy="402.5" r="3.6"/>
<circle cx="982" cy="401.9" r="3.6"/>
<circle cx="982.1" cy="401.3" r="3.6"/>
<circle cx="982.2" cy="400.7" r="3.6"/>
<circle cx="982.4" cy="400.1" r="3.6"/>
<circle cx="982.6" cy="399.5" r="3.6"/>
<circle cx="982.8" cy="398.9" r="3.6"/>
<circle cx="983" cy="398.2" r="3.6"/>
<circle cx="983.2" cy="397.6" r="3.6"/>
<circle cx="983.4" cy="396.9" r="3.6"/>
<circle cx="983.6" cy="396.2" r="3.6"/>
<circle cx="983.8" cy="395.5" r="3.6"/>
<circle cx="984.1" cy="394.8" r="3.6"/>
<circle cx="984.3" cy="394.1" r="3.6"/>
<circle cx="984.6" cy="393.4" r="3.6"/>
<circle cx="984.9" cy="392.6" r="3.6"/>
<circle cx="985.2" cy="391.9" r="3.6"/>
<circle cx="985.5" cy="391.1" r="3.6"/>
<circle cx="985.9" cy="390.2" r="3.6"/>
<circle cx="986.3" cy="389.4" r="3.6"/>
<circle cx="986.7" cy="388.5" r="3.6"/>
<circle cx="987.2" cy="387.5" r="3.6"/>
<circle cx="987.8" cy="386.5" r="3.6"/>
<circle cx="988.4" cy="385.5" r="3.6"/>
<circle cx="989.1" cy="384.5" r="3.6"/>
<circle cx="989.9" cy="383.5" r="3.6"/>
<circle cx="990.8" cy="382.4" r="3.6"/>
<circle cx="991.8" cy="381.4" r="3.6"/>
<circle cx="993" cy="380.3" r="3.6"/>
<circle cx="994.2" cy="379.2" r="3.6"/>
<circle cx="995.4" cy="378.1" r="3.6"/>
<circle cx="996.7" cy="376.7" r="3.6"/>
<circle cx="998" cy="375.2" r="3.6"/>
<circle cx="999.3" cy="373.5" r="3.6"/>
<circle cx="1000.5" cy="371.6" r="3.6"/>
<circle cx="1001.7" cy="369.6" r="3.6"/>
<circle cx="1002.9" cy="367.3" r="3.6"/>
<circle cx="1004.2" cy="364.9" r="3.6"/>
<circle cx="1005.7" cy="362.4" r="3.6"/>
<circle cx="1007.4" cy="359.8" r="3.6"/>
<circle cx="1009.4" cy="357.1" r="3.6"/>
<circle cx="1013" cy="351" r="3.6"/>
<circle cx="1015.8" cy="347.9" r="3.6"/>
<circle cx="1017.3" cy="343.8" r="3.6"/>
<circle cx="1019.9" cy="340.1" r="3.6"/>
<circle cx="1022.7" cy="335.8" r="3.6"/>
<circle cx="1026" cy="331.7" r="3.6"/>
<circle cx="1029.7" cy="327.9" r="3.6"/>
<circle cx="1033" cy="323.2" r="3.6"/>
<circle cx="1037.1" cy="317.9" r="3.6"/>
<circle cx="1041.7" cy="312.7" r="3.6"/>
<circle cx="1046.4" cy="307.1" r="3.6"/>
<circle cx="1051.9" cy="301" r="3.6"/>
<circle cx="1056.2" cy="295.1" r="3.6"/>
<circle cx="1063.4" cy="289" r="3.6"/>
<circle cx="1069.5" cy="283.4" r="3.6"/>
<circle cx="1076.9" cy="277.5" r="3.6"/>
<circle cx="1084" cy="271" r="3.6"/>
<circle cx="1092.7" cy="265.1" r="3.6"/>
<circle cx="1101.4" cy="258.6" r="3.6"/>
<circle cx="1110.3" cy="251.9" r="3.6"/>
<circle cx="1120.8" cy="245.6" r="3.6"/>
<circle cx="1132.5" cy="240.5" r="3.6"/>
<circle cx="1144" cy="233.9" r="3.6"/>
<circle cx="1155.6" cy="228.8" r="3.6"/>
<circle cx="1167.2" cy="224.4" r="3.6"/>
<circle cx="1181.3" cy="218.5" r="3.6"/>
<circle cx="1195.5" cy="215.4" r="3.6"/>
<circle cx="1209" cy="210.2" r="3.6"/>
<circle cx="1225.1" cy="208.5" r="3.6"/>
<circle cx="1238.5" cy="205.5" r="3.6"/>
<circle cx="1254.5" cy="202.5" r="3.6"/>
<circle cx="1267.9" cy="202.5" r="3.6"/>
<circle cx="1283.7" cy="201.2" r="3.6"/>
<circle cx="1300.1" cy="202.5" r="3.6"/>
<circle cx="1315.9" cy="203.6" r="3.6"/>
<circle cx="1331.7" cy="208.5" r="3.6"/>
<circle cx="1345.4" cy="211" r="3.6"/>
<circle cx="1358.2" cy="215.6" r="3.6"/>
<circle cx="1372.9" cy="218.4" r="3.6"/>
<circle cx="1387.6" cy="222.7" r="3.6"/>
<circle cx="1399.3" cy="227.1" r="3.6"/>
<circle cx="1412.4" cy="233.1" r="3.6"/>
<circle cx="1422.8" cy="240.4" r="3.6"/>
<circle cx="1434.5" cy="247.8" r="3.6"/>
<circle cx="1444.6" cy="253.5" r="3.6"/>
<circle cx="1452.3" cy="260.9" r="3.6"/>
<circle cx="1460.4" cy="267.2" r="3.6"/>
<circle cx="1467.8" cy="273.4" r="3.6"/>
<circle cx="1475.4" cy="279.2" r="3.6"/>
<circle cx="1483.1" cy="286.8" r="3.6"/>
<circle cx="1489.1" cy="293.6" r="3.6"/>
<circle cx="1494.5" cy="299.9" r="3.6"/>
<circle cx="1500" cy="304.5" r="3.6"/>
<circle cx="1506.8" cy="312.7" r="3.6"/>
<circle cx="1511.7" cy="318.7" r="3.6"/>
<circle cx="1516.3" cy="323.6" r="3.6"/>
<circle cx="1521.2" cy="331.8" r="3.6"/>
<circle cx="1524.5" cy="338.6" r="3.6"/>
</g>
<g fill="#22ee44" stroke="#000" stroke-width="1.2">
<rect x="981" y="404.5" width="6.2" height="6.2"/>
<rect x="981" y="404" width="6.2" height="6.2"/>
<rect x="981.1" y="403.5" width="6.2" height="6.2"/>
<rect x="981.1" y="403" width="6.2" height="6.2"/>
<rect x="981.1" y="402.4" width="6.2" height="6.2"/>
<rect x="981.2" y="401.9" width="6.2" height="6.2"/>
<rect x="981.2" y="401.4" width="6.2" height="6.2"/>
<rect x="981.3" y="400.8" width="6.2" height="6.2"/>
<rect x="981.3" y="400.2" width="6.2" height="6.2"/>
<rect x="981.4" y="399.6" width="6.2" height="6.2"/>
<rect x="981.5" y="399" width="6.2" height="6.2"/>
<rect x="981.6" y="398.4" width="6.2" height="6.2"/>
<rect x="981.7" y="397.8" width="6.2" height="6.2"/>
<rect x="981.9" y="397.2" width="6.2" height="6.2"/>
<rect x="982.1" y="396.6" width="6.2" height="6.2"/>
<rect x="982.3" y="396" width="6.2" height="6.2"/>
<rect x="982.5" y="395.3" width="6.2" height="6.2"/>
<rect x="982.7" y="394.7" width="6.2" height="6.2"/>
<rect x="982.9" y="394" width="6.2" height="6.2"/>
<rect x="983.1" y="393.3" width="6.2" height="6.2"/>
<rect x="983.3" y="392.6" width="6.2" height="6.2"/>
<rect x="983.6" y="391.9" width="6.2" height="6.2"/>
<rect x="983.8" y="391.2" width="6.2" height="6.2"/>
<rect x="984.1" y="390.5" width="6.2" height="6.2"/>
<rect x="984.4" y="389.7" width="6.2" height="6.2"/>
<rect x="984.7" y="389" width="6.2" height="6.2"/>
<rect x="985" y="388.2" width="6.2" height="6.2"/>
<rect x="985.4" y="387.3" width="6.2" height="6.2"/>
<rect x="985.8" y="386.5" width="6.2" height="6.2"/>
<rect x="986.2" y="385.6" width="6.2" height="6.2"/>
<rect x="986.7" y="384.6" width="6.2" height="6.2"/>
<rect x="987.3" y="383.6" width="6.2" height="6.2"/>
<rect x="987.9" y="382.6" width="6.2" height="6.2"/>
<rect x="988.6" y="381.6" width="6.2" height="6.2"/>
<rect x="989.4" y="380.6" width="6.2" height="6.2"/>
<rect x="990.3" y="379.5" width="6.2" height="6.2"/>
<rect x="991.3" y="378.5" width="6.2" height="6.2"/>
<rect x="992.5" y="377.4" width="6.2" height="6.2"/>
<rect x="993.7" y="376.3" width="6.2" height="6.2"/>
<rect x="994.9" y="375.2" width="6.2" height="6.2"/>
<rect x="996.2" y="373.8" width="6.2" height="6.2"/>
<rect x="997.5" y="372.3" width="6.2" height="6.2"/>
<rect x="998.8" y="370.6" width="6.2" height="6.2"/>
<rect x="1000" y="368.7" width="6.2" height="6.2"/>
<rect x="1001.2" y="366.7" width="6.2" height="6.2"/>
<rect x="1002.4" y="364.4" width="6.2" height="6.2"/>
<rect x="1003.7" y="362" width="6.2" height="6.2"/>
<rect x="1005.2" y="359.5" width="6.2" height="6.2"/>
<rect x="1006.9" y="356.9" width="6.2" height="6.2"/>
<rect x="1008.9" y="354.2" width="6.2" height="6.2"/>
<rect x="1011.5" y="349.3" width="6.2" height="6.2"/>
<rect x="1014.3" y="346.2" width="6.2" height="6.2"/>
<rect x="1015.8" y="342.1" width="6.2" height="6.2"/>
<rect x="1018.4" y="338.4" width="6.2" height="6.2"/>
<rect x="1021.2" y="334.1" width="6.2" height="6.2"/>
<rect x="1024.5" y="330" width="6.2" height="6.2"/>
<rect x="1028.2" y="326.2" width="6.2" height="6.2"/>
<rect x="1031.5" y="321.5" width="6.2" height="6.2"/>
<rect x="1035.6" y="316.2" width="6.2" height="6.2"/>
<rect x="1040.2" y="311" width="6.2" height="6.2"/>
<rect x="1044.9" y="305.4" width="6.2" height="6.2"/>
<rect x="1050.4" y="299.3" width="6.2" height="6.2"/>
<rect x="1054.7" y="293.4" width="6.2" height="6.2"/>
<rect x="1061.9" y="287.3" width="6.2" height="6.2"/>
<rect x="1068" y="281.7" width="6.2" height="6.2"/>
<rect x="1075.4" y="275.8" width="6.2" height="6.2"/>
<rect x="1082.5" y="269.3" width="6.2" height="6.2"/>
<rect x="1091.2" y="263.4" width="6.2" height="6.2"/>
<rect x="1099.9" y="256.9" width="6.2" height="6.2"/>
<rect x="1108.8" y="250.2" width="6.2" height="6.2"/>
<rect x="1119.3" y="243.9" width="6.2" height="6.2"/>
<rect x="1131" y="238.8" width="6.2" height="6.2"/>
<rect x="1142.5" y="232.2" width="6.2" height="6.2"/>
<rect x="1154.1" y="227.1" width="6.2" height="6.2"/>
<rect x="1165.7" y="222.7" width="6.2" height="6.2"/>
<rect x="1179.8" y="216.8" width="6.2" height="6.2"/>
<rect x="1194" y="213.7" width="6.2" height="6.2"/>
<rect x="1207.8" y="208.7" width="6.2" height="6.2"/>
<rect x="1222.8" y="206.3" width="6.2" height="6.2"/>
<rect x="1237.3" y="204.3" width="6.2" height="6.2"/>
<rect x="1252.3" y="202.7" width="6.2" height="6.2"/>
<rect x="1268.1" y="201.4" width="6.2" height="6.2"/>
<rect x="1283.1" y="201.4" width="6.2" height="6.2"/>
<rect x="1298.9" y="202.7" width="6.2" height="6.2"/>
<rect x="1313.6" y="204.3" width="6.2" height="6.2"/>
<rect x="1328.3" y="207.1" width="6.2" height="6.2"/>
<rect x="1342.8" y="209.8" width="6.2" height="6.2"/>
<rect x="1357.2" y="213.3" width="6.2" height="6.2"/>
<rect x="1370.3" y="217.4" width="6.2" height="6.2"/>
<rect x="1384" y="221.8" width="6.2" height="6.2"/>
<rect x="1395.7" y="227.8" width="6.2" height="6.2"/>
<rect x="1408.5" y="233.5" width="6.2" height="6.2"/>
<rect x="1418.9" y="238.7" width="6.2" height="6.2"/>
<rect x="1430.9" y="245" width="6.2" height="6.2"/>
<rect x="1439.6" y="251.3" width="6.2" height="6.2"/>
<rect x="1449.7" y="257.8" width="6.2" height="6.2"/>
<rect x="1458.1" y="264.3" width="6.2" height="6.2"/>
<rect x="1465.8" y="270.3" width="6.2" height="6.2"/>
<rect x="1474" y="276.3" width="6.2" height="6.2"/>
<rect x="1480.8" y="283.7" width="6.2" height="6.2"/>
<rect x="1487.6" y="290" width="6.2" height="6.2"/>
<rect x="1493.6" y="295.4" width="6.2" height="6.2"/>
<rect x="1499.1" y="301.4" width="6.2" height="6.2"/>
<rect x="1503.7" y="306.9" width="6.2" height="6.2"/>
<rect x="1509.4" y="311.8" width="6.2" height="6.2"/>
<rect x="1513.2" y="317" width="6.2" height="6.2"/>
<rect x="1516.8" y="321.6" width="6.2" height="6.2"/>
<rect x="1520.6" y="326.8" width="6.2" height="6.2"/>
<rect x="1524.1" y="331.4" width="6.2" height="6.2"/>
<rect x="1527.1" y="336.1" width="6.2" height="6.2"/>
</g>
<g fill="#2a2ac8" font-family="'Liberation Sans', Arial, sans-serif" font-size="13.5" letter-spacing="0.85" stroke="#2a2ac8" stroke-width="0.25">
<text x="944" y="396.5">1.9k</text>
<text x="1004" y="396.5">590</text>
<text x="963.5" y="370">539</text>
<text x="1019" y="374">262</text>
<text x="976.5" y="349">240</text>
<text x="1034" y="351">153</text>
<text x="995" y="325">140</text>
<text x="1055" y="327.5">89.1</text>
<text x="1007.5" y="304">97.5</text>
<text x="1073.5" y="306.5">62.1</text>
<text x="1040" y="281.5">68</text>
<text x="1107.5" y="278.5">43.3</text>
<text x="1062" y="254">47.4</text>
<text x="1143" y="258.5">30.2</text>
<text x="1104" y="227.5">33.1</text>
<text x="1189" y="239">21.1</text>
<text x="1157" y="205">23.1</text>
<text x="1231" y="230.5">16.1</text>
<text x="1206" y="194">17.6</text>
<text x="1271.5" y="228.5">12.3</text>
<text x="1254" y="190.5">13.4</text>
<text x="1311.5" y="234">9.38</text>
<text x="1304" y="191.5">10.3</text>
<text x="1351" y="245.5">7.16</text>
<text x="1353.5" y="201.5">7.83</text>
<text x="1391.5" y="264">4.99</text>
<text x="1397.5" y="214.5">5.98</text>
<text x="1423.5" y="285">3.81</text>
<text x="1435" y="235.5">4.56</text>
<text x="1450" y="308">2.66</text>
<text x="1466" y="258.5">3.48</text>
<text x="1473" y="332">1.85</text>
<text x="1496.5" y="286">2.43</text>
<text x="1487.5" y="353.5">1.08</text>
<text x="1519" y="308">1.69</text>
<text x="1536" y="332">1.18</text>
</g>
<path d="M931.2 409.4H1641.1" stroke="#303030" stroke-width="3.2" fill="none"/>
<path d="M933.6 409.4H1638.3" stroke="#cfcfcf" stroke-width="1" fill="none"/>
<path d="M932.2 411V36.2H1639.7V411" stroke="#000" stroke-width="2.9" fill="none" stroke-linejoin="miter"/>
<circle cx="1493.6" cy="79.5" r="4.1" fill="#ee1111" stroke="#000" stroke-width="1.3"/>
<rect x="1490.9" y="96.1" width="7.2" height="7.2" fill="#22ee44" stroke="#000" stroke-width="1.4"/>
<g font-family="'Liberation Sans', Arial, sans-serif" font-size="16" fill="#111"><text x="1513.4" y="85.4">Experimental</text><text x="1513.9" y="106.7">Fitted</text></g>
<path d="M958.5 111.5H976.4M995.6 111.5H1012.5M1012.5 148V73.2H1075.3M1084.6 73.2H1156.7V148M1156.7 111.5H1174.7M1012.5 148H1030M1049.6 148H1066.1M1138.6 148H1156.7M1098 129.4H1066.1V166.9H1096.6M1115.5 166.9H1138.6V129.4H1106.9" fill="none" stroke="#1a1a1a" stroke-width="1.25" stroke-linejoin="miter"/>
<path d="M976.4 111.5L977.6 107.9L980 115.1L982.4 107.9L984.8 115.1L987.2 107.9L989.6 115.1L992 107.9L994.4 115.1L995.6 111.5M1030 148L1031.2 144.4L1033.7 151.6L1036.1 144.4L1038.6 151.6L1041 144.4L1043.5 151.6L1045.9 144.4L1048.4 151.6L1049.6 148M1096.6 166.9L1097.8 163.3L1100.1 170.5L1102.5 163.3L1104.9 170.5L1107.2 163.3L1109.6 170.5L1112 163.3L1114.3 170.5L1115.5 166.9" fill="none" stroke="#111" stroke-width="1.5" stroke-linejoin="miter"/>
<path d="M1075.3 63.9V82.5M1084.6 63.9V82.5M1098 120.1V138.7M1106.9 120.1V138.7" fill="none" stroke="#1a1a1a" stroke-width="1.45"/>
<text x="1067.7" y="60.2" font-family="'Liberation Serif', 'Times New Roman', serif" font-size="13" fill="#111">CPE<tspan font-size="7.5" dy="3">f</tspan></text>
<text x="980.1" y="99.9" font-family="'Liberation Serif', 'Times New Roman', serif" font-size="13" fill="#111">R<tspan font-size="7.5" dy="3">s</tspan></text>
<text x="1088.7" y="116.4" font-family="'Liberation Serif', 'Times New Roman', serif" font-size="13" fill="#111">CPE<tspan font-size="7.5" dy="3">dl</tspan></text>
<text x="1034.7" y="167.9" font-family="'Liberation Serif', 'Times New Roman', serif" font-size="13" fill="#111">R<tspan font-size="7.5" dy="3">f</tspan></text>
<text x="1101.5" y="185.5" font-family="'Liberation Serif', 'Times New Roman', serif" font-size="13" fill="#111">R<tspan font-size="7.5" dy="3">t</tspan></text>
<g stroke="#c4c2c2" stroke-width="1.4" fill="none">
<path d="M75.3 910.5H773.8"/>
<path d="M75.3 887.5H773.8"/>
<path d="M75.3 864.5H773.8"/>
<path d="M75.3 841.6H773.8"/>
<path d="M75.3 818.6H773.8"/>
<path d="M75.3 795.6H773.8"/>
<path d="M75.3 772.6H773.8"/>
<path d="M75.3 749.7H773.8"/>
<path d="M75.3 726.7H773.8"/>
<path d="M75.3 703.7H773.8"/>
<path d="M75.3 680.8H773.8"/>
<path d="M75.3 657.8H773.8"/>
<path d="M75.3 634.8H773.8"/>
<path d="M75.3 611.8H773.8"/>
<path d="M75.3 588.9H773.8"/>
<path d="M75.3 565.9H773.8"/>
<path d="M75.3 542.9H773.8"/>
<path d="M189.8 540.6V910.5"/>
<path d="M304.5 540.6V910.5"/>
<path d="M419.2 540.6V910.5"/>
<path d="M534 540.6V910.5"/>
<path d="M648.8 540.6V910.5"/>
<path d="M763.5 540.6V910.5"/>
</g>
<rect x="96.7" y="557.6" width="251.1" height="158.4" fill="#fff"/>
<g stroke="#123634" stroke-width="1.55">
<path d="M69.1 905.9H75.3"/>
<path d="M69.1 901.3H75.3"/>
<path d="M69.1 896.7H75.3"/>
<path d="M69.1 892.1H75.3"/>
<path d="M69.1 882.9H75.3"/>
<path d="M69.1 878.3H75.3"/>
<path d="M69.1 873.7H75.3"/>
<path d="M69.1 869.1H75.3"/>
<path d="M69.1 860H75.3"/>
<path d="M69.1 855.4H75.3"/>
<path d="M69.1 850.8H75.3"/>
<path d="M69.1 846.2H75.3"/>
<path d="M69.1 837H75.3"/>
<path d="M69.1 832.4H75.3"/>
<path d="M69.1 827.8H75.3"/>
<path d="M69.1 823.2H75.3"/>
<path d="M69.1 814H75.3"/>
<path d="M69.1 809.4H75.3"/>
<path d="M69.1 804.8H75.3"/>
<path d="M69.1 800.2H75.3"/>
<path d="M69.1 791H75.3"/>
<path d="M69.1 786.4H75.3"/>
<path d="M69.1 781.8H75.3"/>
<path d="M69.1 777.2H75.3"/>
<path d="M69.1 768.1H75.3"/>
<path d="M69.1 763.5H75.3"/>
<path d="M69.1 758.9H75.3"/>
<path d="M69.1 754.3H75.3"/>
<path d="M69.1 745.1H75.3"/>
<path d="M69.1 740.5H75.3"/>
<path d="M69.1 735.9H75.3"/>
<path d="M69.1 731.3H75.3"/>
<path d="M69.1 722.1H75.3"/>
<path d="M69.1 717.5H75.3"/>
<path d="M69.1 712.9H75.3"/>
<path d="M69.1 708.3H75.3"/>
<path d="M69.1 699.1H75.3"/>
<path d="M69.1 694.5H75.3"/>
<path d="M69.1 689.9H75.3"/>
<path d="M69.1 685.3H75.3"/>
<path d="M69.1 676.2H75.3"/>
<path d="M69.1 671.6H75.3"/>
<path d="M69.1 667H75.3"/>
<path d="M69.1 662.4H75.3"/>
<path d="M69.1 653.2H75.3"/>
<path d="M69.1 648.6H75.3"/>
<path d="M69.1 644H75.3"/>
<path d="M69.1 639.4H75.3"/>
<path d="M69.1 630.2H75.3"/>
<path d="M69.1 625.6H75.3"/>
<path d="M69.1 621H75.3"/>
<path d="M69.1 616.4H75.3"/>
<path d="M69.1 607.2H75.3"/>
<path d="M69.1 602.6H75.3"/>
<path d="M69.1 598H75.3"/>
<path d="M69.1 593.4H75.3"/>
<path d="M69.1 584.3H75.3"/>
<path d="M69.1 579.7H75.3"/>
<path d="M69.1 575.1H75.3"/>
<path d="M69.1 570.5H75.3"/>
<path d="M69.1 561.3H75.3"/>
<path d="M69.1 556.7H75.3"/>
<path d="M69.1 552.1H75.3"/>
<path d="M69.1 547.5H75.3"/>
<path d="M98 910.5V916"/>
<path d="M120.9 910.5V916"/>
<path d="M143.8 910.5V916"/>
<path d="M166.8 910.5V916"/>
<path d="M212.7 910.5V916"/>
<path d="M235.7 910.5V916"/>
<path d="M258.6 910.5V916"/>
<path d="M281.5 910.5V916"/>
<path d="M327.4 910.5V916"/>
<path d="M350.4 910.5V916"/>
<path d="M373.3 910.5V916"/>
<path d="M396.3 910.5V916"/>
<path d="M442.2 910.5V916"/>
<path d="M465.1 910.5V916"/>
<path d="M488.1 910.5V916"/>
<path d="M511.1 910.5V916"/>
<path d="M557 910.5V916"/>
<path d="M579.9 910.5V916"/>
<path d="M602.9 910.5V916"/>
<path d="M625.8 910.5V916"/>
<path d="M671.7 910.5V916"/>
<path d="M694.6 910.5V916"/>
<path d="M717.6 910.5V916"/>
<path d="M740.5 910.5V916"/>
</g>
<g stroke="#000" stroke-width="1.7">
<path d="M65.8 910.5H75.3"/>
<path d="M65.8 887.5H75.3"/>
<path d="M65.8 864.5H75.3"/>
<path d="M65.8 841.6H75.3"/>
<path d="M65.8 818.6H75.3"/>
<path d="M65.8 795.6H75.3"/>
<path d="M65.8 772.6H75.3"/>
<path d="M65.8 749.7H75.3"/>
<path d="M65.8 726.7H75.3"/>
<path d="M65.8 703.7H75.3"/>
<path d="M65.8 680.8H75.3"/>
<path d="M65.8 657.8H75.3"/>
<path d="M65.8 634.8H75.3"/>
<path d="M65.8 611.8H75.3"/>
<path d="M65.8 588.9H75.3"/>
<path d="M65.8 565.9H75.3"/>
<path d="M65.8 542.9H75.3"/>
<path d="M75 910.5V918.5"/>
<path d="M189.8 910.5V918.5"/>
<path d="M304.5 910.5V918.5"/>
<path d="M419.2 910.5V918.5"/>
<path d="M534 910.5V918.5"/>
<path d="M648.8 910.5V918.5"/>
<path d="M763.5 910.5V918.5"/>
</g>
<g fill="#000" stroke="#000" stroke-width="0.2" font-family="'Liberation Sans', Arial, sans-serif" font-size="15.2">
<text x="64.5" y="916" text-anchor="end">0</text>
<text x="64.5" y="893" text-anchor="end">10</text>
<text x="64.5" y="870" text-anchor="end">20</text>
<text x="64.5" y="847.1" text-anchor="end">30</text>
<text x="64.5" y="824.1" text-anchor="end">40</text>
<text x="64.5" y="801.1" text-anchor="end">50</text>
<text x="64.5" y="778.1" text-anchor="end">60</text>
<text x="64.5" y="755.2" text-anchor="end">70</text>
<text x="64.5" y="732.2" text-anchor="end">80</text>
<text x="64.5" y="709.2" text-anchor="end">90</text>
<text x="64.5" y="686.2" text-anchor="end">100</text>
<text x="64.5" y="663.3" text-anchor="end">110</text>
<text x="64.5" y="640.3" text-anchor="end">120</text>
<text x="64.5" y="617.3" text-anchor="end">130</text>
<text x="64.5" y="594.4" text-anchor="end">140</text>
<text x="64.5" y="571.4" text-anchor="end">150</text>
<text x="64.5" y="548.4" text-anchor="end">160</text>
<text x="75" y="934" text-anchor="middle">0</text>
<text x="189.8" y="934" text-anchor="middle">50</text>
<text x="304.5" y="934" text-anchor="middle">100</text>
<text x="419.2" y="934" text-anchor="middle">150</text>
<text x="534" y="934" text-anchor="middle">200</text>
<text x="648.8" y="934" text-anchor="middle">250</text>
<text x="763.5" y="934" text-anchor="middle">300</text>
</g>
<text x="421.8" y="964.3" text-anchor="middle" font-family="'Liberation Sans', Arial, sans-serif" font-size="15.6" fill="#151515" stroke="#151515" stroke-width="0.15">Z′ (Ω·cm<tspan font-size="10.8" dy="-5.6">2</tspan><tspan dy="5.6">)</tspan></text>
<text transform="translate(24.5 733) rotate(-90)" text-anchor="middle" font-family="'Liberation Sans', Arial, sans-serif" font-size="15.6" fill="#151515" stroke="#151515" stroke-width="0.15">Z″ (Ω·cm<tspan font-size="10.8" dy="-5.6">2</tspan><tspan dy="5.6">)</tspan></text>
<text x="47.5" y="519.6" font-family="'Liberation Serif', 'Times New Roman', serif" font-size="22" font-weight="bold" fill="#111">c</text>
<g fill="#ee1111" stroke="#000" stroke-width="1.2">
<circle cx="186.6" cy="905.2" r="3.6"/>
<circle cx="186.6" cy="904.8" r="3.6"/>
<circle cx="186.5" cy="904.3" r="3.6"/>
<circle cx="186.5" cy="903.8" r="3.6"/>
<circle cx="186.5" cy="903.4" r="3.6"/>
<circle cx="186.4" cy="902.9" r="3.6"/>
<circle cx="186.4" cy="902.4" r="3.6"/>
<circle cx="186.4" cy="901.9" r="3.6"/>
<circle cx="186.4" cy="901.4" r="3.6"/>
<circle cx="186.4" cy="900.9" r="3.6"/>
<circle cx="186.4" cy="900.3" r="3.6"/>
<circle cx="186.4" cy="899.8" r="3.6"/>
<circle cx="186.5" cy="899.2" r="3.6"/>
<circle cx="186.6" cy="898.7" r="3.6"/>
<circle cx="186.7" cy="898.1" r="3.6"/>
<circle cx="186.8" cy="897.6" r="3.6"/>
<circle cx="186.9" cy="897" r="3.6"/>
<circle cx="187" cy="896.4" r="3.6"/>
<circle cx="187.2" cy="895.8" r="3.6"/>
<circle cx="187.4" cy="895.2" r="3.6"/>
<circle cx="187.6" cy="894.6" r="3.6"/>
<circle cx="187.8" cy="894" r="3.6"/>
<circle cx="188" cy="893.4" r="3.6"/>
<circle cx="188.3" cy="892.8" r="3.6"/>
<circle cx="188.5" cy="892.1" r="3.6"/>
<circle cx="188.8" cy="891.5" r="3.6"/>
<circle cx="189.2" cy="890.9" r="3.6"/>
<circle cx="189.5" cy="890.2" r="3.6"/>
<circle cx="190" cy="889.4" r="3.6"/>
<circle cx="190.4" cy="888.6" r="3.6"/>
<circle cx="191" cy="887.8" r="3.6"/>
<circle cx="191.7" cy="887" r="3.6"/>
<circle cx="192.4" cy="886.1" r="3.6"/>
<circle cx="193.2" cy="885.1" r="3.6"/>
<circle cx="194.1" cy="884.1" r="3.6"/>
<circle cx="195.1" cy="882.9" r="3.6"/>
<circle cx="196.1" cy="881.7" r="3.6"/>
<circle cx="197.2" cy="880.4" r="3.6"/>
<circle cx="198.4" cy="878.9" r="3.6"/>
<circle cx="199.7" cy="877.4" r="3.6"/>
<circle cx="201.1" cy="875.7" r="3.6"/>
<circle cx="202.5" cy="873.8" r="3.6"/>
<circle cx="203.9" cy="871.9" r="3.6"/>
<circle cx="205.5" cy="870" r="3.6"/>
<circle cx="207.4" cy="868.2" r="3.6"/>
<circle cx="209.6" cy="866.7" r="3.6"/>
<circle cx="212.4" cy="865.9" r="3.6"/>
<circle cx="215.3" cy="865.4" r="3.6"/>
<circle cx="218.3" cy="864.6" r="3.6"/>
<circle cx="221.3" cy="863.5" r="3.6"/>
<circle cx="224.3" cy="862" r="3.6"/>
<circle cx="227.3" cy="860.2" r="3.6"/>
<circle cx="230.4" cy="858.3" r="3.6"/>
<circle cx="233.5" cy="856.2" r="3.6"/>
<circle cx="236.6" cy="854.2" r="3.6"/>
<circle cx="240.1" cy="852.4" r="3.6"/>
<circle cx="243.6" cy="850.7" r="3.6"/>
<circle cx="247.3" cy="849.1" r="3.6"/>
<circle cx="251.1" cy="847.5" r="3.6"/>
<circle cx="254.9" cy="845.8" r="3.6"/>
<circle cx="258.8" cy="844.2" r="3.6"/>
<circle cx="262.9" cy="842.7" r="3.6"/>
<circle cx="267.1" cy="841.5" r="3.6"/>
<circle cx="271.5" cy="840.3" r="3.6"/>
<circle cx="275.9" cy="839.1" r="3.6"/>
<circle cx="280.4" cy="838" r="3.6"/>
<circle cx="284.6" cy="836.2" r="3.6"/>
<circle cx="288.2" cy="833.3" r="3.6"/>
<circle cx="292" cy="830.6" r="3.6"/>
<circle cx="296.2" cy="828.8" r="3.6"/>
<circle cx="300.7" cy="827.6" r="3.6"/>
<circle cx="305.3" cy="826.9" r="3.6"/>
<circle cx="310" cy="826.5" r="3.6"/>
<circle cx="314.6" cy="826.2" r="3.6"/>
<circle cx="319.3" cy="826" r="3.6"/>
<circle cx="324" cy="826" r="3.6"/>
<circle cx="328.7" cy="826" r="3.6"/>
<circle cx="333.4" cy="826" r="3.6"/>
<circle cx="338.1" cy="825.9" r="3.6"/>
<circle cx="342.8" cy="825.6" r="3.6"/>
<circle cx="347.5" cy="825.4" r="3.6"/>
<circle cx="352.3" cy="825.3" r="3.6"/>
<circle cx="357" cy="825.5" r="3.6"/>
<circle cx="361.7" cy="826" r="3.6"/>
<circle cx="366.5" cy="826.4" r="3.6"/>
<circle cx="371.2" cy="826.9" r="3.6"/>
<circle cx="375.9" cy="827.7" r="3.6"/>
<circle cx="380.7" cy="828.5" r="3.6"/>
<circle cx="385.3" cy="829.6" r="3.6"/>
<circle cx="390.1" cy="830.5" r="3.6"/>
<circle cx="394.8" cy="831.4" r="3.6"/>
<circle cx="399.5" cy="832.3" r="3.6"/>
<circle cx="404.2" cy="833.6" r="3.6"/>
<circle cx="408.8" cy="835" r="3.6"/>
<circle cx="413.5" cy="836.5" r="3.6"/>
<circle cx="418.2" cy="837.6" r="3.6"/>
<circle cx="423" cy="838.5" r="3.6"/>
<circle cx="427.8" cy="839.3" r="3.6"/>
<circle cx="432.7" cy="840" r="3.6"/>
<circle cx="437.4" cy="841.2" r="3.6"/>
<circle cx="442.3" cy="842.1" r="3.6"/>
<circle cx="447.2" cy="842.5" r="3.6"/>
<circle cx="452.1" cy="842.4" r="3.6"/>
<circle cx="457.1" cy="842.1" r="3.6"/>
<circle cx="462" cy="841.7" r="3.6"/>
<circle cx="466.9" cy="840.7" r="3.6"/>
<circle cx="471.7" cy="839.3" r="3.6"/>
<circle cx="476.2" cy="837.2" r="3.6"/>
<circle cx="480.6" cy="834.8" r="3.6"/>
<circle cx="485.4" cy="833.3" r="3.6"/>
<circle cx="490.2" cy="831.9" r="3.6"/>
<circle cx="495.1" cy="830.6" r="3.6"/>
<circle cx="500" cy="829.3" r="3.6"/>
<circle cx="504.8" cy="828" r="3.6"/>
<circle cx="509.7" cy="826.7" r="3.6"/>
<circle cx="514.6" cy="825.3" r="3.6"/>
<circle cx="519.5" cy="823.8" r="3.6"/>
<circle cx="524.4" cy="822.3" r="3.6"/>
<circle cx="529.3" cy="823.2" r="3.6"/>
<circle cx="534.1" cy="823.5" r="3.6"/>
<circle cx="538.6" cy="821" r="3.6"/>
<circle cx="543.4" cy="819.1" r="3.6"/>
<circle cx="548.4" cy="817.9" r="3.6"/>
<circle cx="553.5" cy="817" r="3.6"/>
<circle cx="558.7" cy="816.3" r="3.6"/>
<circle cx="563.8" cy="815.7" r="3.6"/>
<circle cx="569.1" cy="815.7" r="3.6"/>
<circle cx="574.3" cy="816.1" r="3.6"/>
<circle cx="579.4" cy="816.8" r="3.6"/>
<circle cx="584.7" cy="817.2" r="3.6"/>
<circle cx="589.9" cy="817.3" r="3.6"/>
<circle cx="595.2" cy="817.5" r="3.6"/>
<circle cx="600.5" cy="817.7" r="3.6"/>
<circle cx="620" cy="819.5" r="3.6"/>
<circle cx="625" cy="820.9" r="3.6"/>
<circle cx="629.9" cy="822.7" r="3.6"/>
<circle cx="634.7" cy="824.7" r="3.6"/>
<circle cx="639.6" cy="826.3" r="3.6"/>
<circle cx="644.6" cy="825.1" r="3.6"/>
<circle cx="649.6" cy="823.4" r="3.6"/>
<circle cx="654.5" cy="821.9" r="3.6"/>
<circle cx="659.6" cy="821" r="3.6"/>
</g>
<g fill="#22ee44" stroke="#000" stroke-width="1.2">
<rect x="186.7" y="903.2" width="6.2" height="6.2"/>
<rect x="186.7" y="902.8" width="6.2" height="6.2"/>
<rect x="186.8" y="902.3" width="6.2" height="6.2"/>
<rect x="186.8" y="901.8" width="6.2" height="6.2"/>
<rect x="186.8" y="901.4" width="6.2" height="6.2"/>
<rect x="186.8" y="900.9" width="6.2" height="6.2"/>
<rect x="186.9" y="900.4" width="6.2" height="6.2"/>
<rect x="186.9" y="899.9" width="6.2" height="6.2"/>
<rect x="187" y="899.4" width="6.2" height="6.2"/>
<rect x="187" y="898.9" width="6.2" height="6.2"/>
<rect x="187.1" y="898.4" width="6.2" height="6.2"/>
<rect x="187.2" y="897.9" width="6.2" height="6.2"/>
<rect x="187.3" y="897.3" width="6.2" height="6.2"/>
<rect x="187.5" y="896.8" width="6.2" height="6.2"/>
<rect x="187.6" y="896.3" width="6.2" height="6.2"/>
<rect x="187.8" y="895.7" width="6.2" height="6.2"/>
<rect x="188" y="895.2" width="6.2" height="6.2"/>
<rect x="188.2" y="894.7" width="6.2" height="6.2"/>
<rect x="188.4" y="894.1" width="6.2" height="6.2"/>
<rect x="188.6" y="893.6" width="6.2" height="6.2"/>
<rect x="188.9" y="893" width="6.2" height="6.2"/>
<rect x="189.1" y="892.4" width="6.2" height="6.2"/>
<rect x="189.4" y="891.9" width="6.2" height="6.2"/>
<rect x="189.7" y="891.3" width="6.2" height="6.2"/>
<rect x="190" y="890.7" width="6.2" height="6.2"/>
<rect x="190.3" y="890.1" width="6.2" height="6.2"/>
<rect x="190.6" y="889.6" width="6.2" height="6.2"/>
<rect x="190.9" y="889" width="6.2" height="6.2"/>
<rect x="191.3" y="888.4" width="6.2" height="6.2"/>
<rect x="191.7" y="887.8" width="6.2" height="6.2"/>
<rect x="192.1" y="887.1" width="6.2" height="6.2"/>
<rect x="192.6" y="886.5" width="6.2" height="6.2"/>
<rect x="193.1" y="885.8" width="6.2" height="6.2"/>
<rect x="193.7" y="885.1" width="6.2" height="6.2"/>
<rect x="194.3" y="884.3" width="6.2" height="6.2"/>
<rect x="195" y="883.5" width="6.2" height="6.2"/>
<rect x="195.7" y="882.6" width="6.2" height="6.2"/>
<rect x="196.5" y="881.6" width="6.2" height="6.2"/>
<rect x="197.2" y="880.5" width="6.2" height="6.2"/>
<rect x="198" y="879.3" width="6.2" height="6.2"/>
<rect x="198.9" y="878.1" width="6.2" height="6.2"/>
<rect x="199.9" y="876.8" width="6.2" height="6.2"/>
<rect x="201" y="875.4" width="6.2" height="6.2"/>
<rect x="202.2" y="874" width="6.2" height="6.2"/>
<rect x="203.7" y="872.7" width="6.2" height="6.2"/>
<rect x="205.3" y="871.3" width="6.2" height="6.2"/>
<rect x="207.1" y="869.8" width="6.2" height="6.2"/>
<rect x="208.8" y="868.3" width="6.2" height="6.2"/>
<rect x="210.6" y="866.5" width="6.2" height="6.2"/>
<rect x="212.3" y="864.6" width="6.2" height="6.2"/>
<rect x="214.1" y="862.6" width="6.2" height="6.2"/>
<rect x="216.2" y="860.7" width="6.2" height="6.2"/>
<rect x="218.5" y="858.9" width="6.2" height="6.2"/>
<rect x="220.9" y="857" width="6.2" height="6.2"/>
<rect x="223.4" y="855.1" width="6.2" height="6.2"/>
<rect x="226.1" y="853" width="6.2" height="6.2"/>
<rect x="228.9" y="851" width="6.2" height="6.2"/>
<rect x="231.9" y="849" width="6.2" height="6.2"/>
<rect x="235.2" y="847.2" width="6.2" height="6.2"/>
<rect x="238.8" y="845.5" width="6.2" height="6.2"/>
<rect x="242.5" y="843.8" width="6.2" height="6.2"/>
<rect x="246.4" y="842.1" width="6.2" height="6.2"/>
<rect x="250.4" y="840.4" width="6.2" height="6.2"/>
<rect x="254.6" y="838.6" width="6.2" height="6.2"/>
<rect x="259" y="837" width="6.2" height="6.2"/>
<rect x="263.6" y="835.6" width="6.2" height="6.2"/>
<rect x="268.5" y="834.4" width="6.2" height="6.2"/>
<rect x="273.5" y="833.1" width="6.2" height="6.2"/>
<rect x="278.7" y="831.9" width="6.2" height="6.2"/>
<rect x="283.9" y="830.9" width="6.2" height="6.2"/>
<rect x="289.1" y="830" width="6.2" height="6.2"/>
<rect x="294.4" y="829.3" width="6.2" height="6.2"/>
<rect x="299.7" y="828.8" width="6.2" height="6.2"/>
<rect x="304.9" y="828.3" width="6.2" height="6.2"/>
<rect x="310.2" y="828" width="6.2" height="6.2"/>
<rect x="315.5" y="827.9" width="6.2" height="6.2"/>
<rect x="320.8" y="828" width="6.2" height="6.2"/>
<rect x="326.1" y="828.2" width="6.2" height="6.2"/>
<rect x="331.4" y="828.5" width="6.2" height="6.2"/>
<rect x="336.7" y="828.9" width="6.2" height="6.2"/>
<rect x="342" y="829.4" width="6.2" height="6.2"/>
<rect x="347.2" y="830.1" width="6.2" height="6.2"/>
<rect x="352.5" y="830.8" width="6.2" height="6.2"/>
<rect x="357.7" y="831.6" width="6.2" height="6.2"/>
<rect x="363" y="832.4" width="6.2" height="6.2"/>
<rect x="368.2" y="833.3" width="6.2" height="6.2"/>
<rect x="373.4" y="834.3" width="6.2" height="6.2"/>
<rect x="378.6" y="835.4" width="6.2" height="6.2"/>
<rect x="383.8" y="836.5" width="6.2" height="6.2"/>
<rect x="389" y="837.4" width="6.2" height="6.2"/>
<rect x="394.2" y="838.4" width="6.2" height="6.2"/>
<rect x="399.2" y="839.3" width="6.2" height="6.2"/>
<rect x="404" y="840" width="6.2" height="6.2"/>
<rect x="408.5" y="840.5" width="6.2" height="6.2"/>
<rect x="412.9" y="841" width="6.2" height="6.2"/>
<rect x="417.1" y="841.4" width="6.2" height="6.2"/>
<rect x="421.1" y="841.7" width="6.2" height="6.2"/>
<rect x="424.9" y="841.9" width="6.2" height="6.2"/>
<rect x="428.5" y="842.1" width="6.2" height="6.2"/>
<rect x="432.1" y="842.2" width="6.2" height="6.2"/>
<rect x="435.7" y="842.3" width="6.2" height="6.2"/>
<rect x="439.3" y="842.4" width="6.2" height="6.2"/>
<rect x="442.8" y="842.5" width="6.2" height="6.2"/>
<rect x="446.4" y="842.5" width="6.2" height="6.2"/>
<rect x="450" y="842.5" width="6.2" height="6.2"/>
<rect x="453.5" y="842.5" width="6.2" height="6.2"/>
<rect x="457.1" y="842.4" width="6.2" height="6.2"/>
<rect x="460.6" y="842.3" width="6.2" height="6.2"/>
<rect x="464.1" y="842.3" width="6.2" height="6.2"/>
<rect x="467.7" y="842.1" width="6.2" height="6.2"/>
<rect x="471.1" y="841.6" width="6.2" height="6.2"/>
<rect x="474.6" y="841" width="6.2" height="6.2"/>
<rect x="478" y="840.3" width="6.2" height="6.2"/>
<rect x="481.5" y="839.6" width="6.2" height="6.2"/>
<rect x="485.2" y="839.1" width="6.2" height="6.2"/>
<rect x="489" y="838.6" width="6.2" height="6.2"/>
<rect x="493.1" y="838" width="6.2" height="6.2"/>
<rect x="497.3" y="837.4" width="6.2" height="6.2"/>
<rect x="501.8" y="836.7" width="6.2" height="6.2"/>
<rect x="506.5" y="835.9" width="6.2" height="6.2"/>
<rect x="511.4" y="835.1" width="6.2" height="6.2"/>
<rect x="516.5" y="834.1" width="6.2" height="6.2"/>
<rect x="521.9" y="833.2" width="6.2" height="6.2"/>
<rect x="527.5" y="832.4" width="6.2" height="6.2"/>
<rect x="533" y="831.4" width="6.2" height="6.2"/>
<rect x="538.5" y="830.3" width="6.2" height="6.2"/>
<rect x="544.1" y="829.3" width="6.2" height="6.2"/>
<rect x="549.7" y="828.3" width="6.2" height="6.2"/>
<rect x="555.3" y="827.4" width="6.2" height="6.2"/>
<rect x="560.9" y="826.4" width="6.2" height="6.2"/>
<rect x="566.5" y="825.5" width="6.2" height="6.2"/>
<rect x="572.2" y="824.5" width="6.2" height="6.2"/>
<rect x="577.8" y="823.5" width="6.2" height="6.2"/>
<rect x="583.5" y="822.6" width="6.2" height="6.2"/>
<rect x="589.2" y="821.8" width="6.2" height="6.2"/>
<rect x="594.9" y="820.9" width="6.2" height="6.2"/>
<rect x="600.7" y="820.1" width="6.2" height="6.2"/>
<rect x="606.4" y="819.2" width="6.2" height="6.2"/>
<rect x="612.1" y="818.2" width="6.2" height="6.2"/>
<rect x="617.9" y="817.3" width="6.2" height="6.2"/>
<rect x="623.7" y="816.4" width="6.2" height="6.2"/>
<rect x="629.5" y="815.6" width="6.2" height="6.2"/>
<rect x="635.4" y="814.9" width="6.2" height="6.2"/>
<rect x="641.2" y="814.3" width="6.2" height="6.2"/>
<rect x="647.1" y="813.7" width="6.2" height="6.2"/>
<rect x="653" y="813.1" width="6.2" height="6.2"/>
<rect x="659" y="812.7" width="6.2" height="6.2"/>
<rect x="664.9" y="812.3" width="6.2" height="6.2"/>
<rect x="670.9" y="812.1" width="6.2" height="6.2"/>
</g>
<g fill="#2a2ac8" font-family="'Liberation Sans', Arial, sans-serif" font-size="13.5" letter-spacing="0.85" stroke="#2a2ac8" stroke-width="0.25">
<text x="146" y="887">3.07k</text>
<text x="199" y="898.5">9.55k</text>
<text x="171" y="860">1.37k</text>
<text x="235" y="878">659</text>
<text x="219" y="840.5">477</text>
<text x="271" y="865">230</text>
<text x="254" y="827.5">249</text>
<text x="306.5" y="853.5">111</text>
<text x="296" y="814.5">120</text>
<text x="343.5" y="852">53.5</text>
<text x="328.5" y="813.5">68.3</text>
<text x="386.5" y="860">22</text>
<text x="369" y="816">35.7</text>
<text x="410" y="864.5">9.77</text>
<text x="411.5" y="823.5">14.6</text>
<text x="451.5" y="868">4.35</text>
<text x="450" y="826">2.27</text>
<text x="494" y="857">1.4</text>
<text x="494" y="814">1.1</text>
<text x="530" y="848.5">675m</text>
<text x="528" y="806.5">529m</text>
<text x="577.5" y="842.5">235m</text>
<text x="583" y="803.5">217m</text>
<text x="630" y="850.5">89.1m</text>
<text x="632" y="807.5">75.8m</text>
</g>
<path d="M74.3 910.5H775.2" stroke="#303030" stroke-width="3.2" fill="none"/>
<path d="M76.7 910.5H772.4" stroke="#cfcfcf" stroke-width="1" fill="none"/>
<path d="M75.3 912.1V540.6H773.8V912.1" stroke="#000" stroke-width="2.9" fill="none" stroke-linejoin="miter"/>
<circle cx="604.9" cy="575.3" r="4.1" fill="#ee1111" stroke="#000" stroke-width="1.3"/>
<rect x="602.4" y="596.8" width="7.2" height="7.2" fill="#22ee44" stroke="#000" stroke-width="1.4"/>
<g font-family="'Liberation Sans', Arial, sans-serif" font-size="16" fill="#111"><text x="630" y="582.9">Experimental</text><text x="630.5" y="604.9">Fitted</text></g>
<path d="M100.4 628.1H120.5M142.4 628.1H161.5M161.5 668V586.7H232.8M242.6 586.7H323.9V668M323.9 628.1H344.5M161.5 668H181.3M203.4 668H222M303.8 668H323.9M258.1 648H222V688.4H256.1M277.5 688.4H303.8V648H268.2" fill="none" stroke="#1a1a1a" stroke-width="1.25" stroke-linejoin="miter"/>
<path d="M120.5 628.1L121.9 624.5L124.6 631.7L127.3 624.5L130.1 631.7L132.8 624.5L135.6 631.7L138.3 624.5L141 631.7L142.4 628.1M181.3 668L182.7 664.4L185.4 671.6L188.2 664.4L191 671.6L193.7 664.4L196.5 671.6L199.3 664.4L202 671.6L203.4 668M256.1 688.4L257.4 684.8L260.1 692L262.8 684.8L265.5 692L268.1 684.8L270.8 692L273.5 684.8L276.2 692L277.5 688.4" fill="none" stroke="#111" stroke-width="1.5" stroke-linejoin="miter"/>
<path d="M232.8 576.3V597.1M242.6 576.3V597.1M258.1 637.6V658.4M268.2 637.6V658.4" fill="none" stroke="#1a1a1a" stroke-width="1.45"/>
<text x="224.2" y="572.6" font-family="'Liberation Serif', 'Times New Roman', serif" font-size="14.4" fill="#111">CPE<tspan font-size="8" dy="3">f</tspan></text>
<text x="124.8" y="615.3" font-family="'Liberation Serif', 'Times New Roman', serif" font-size="14.4" fill="#111">R<tspan font-size="8" dy="3">s</tspan></text>
<text x="247.8" y="633.6" font-family="'Liberation Serif', 'Times New Roman', serif" font-size="14.4" fill="#111">CPE<tspan font-size="8" dy="3">dl</tspan></text>
<text x="187.1" y="689.4" font-family="'Liberation Serif', 'Times New Roman', serif" font-size="14.4" fill="#111">R<tspan font-size="8" dy="3">f</tspan></text>
<text x="261.9" y="709.5" font-family="'Liberation Serif', 'Times New Roman', serif" font-size="14.4" fill="#111">R<tspan font-size="8" dy="3">t</tspan></text>
<g stroke="#c4c2c2" stroke-width="1.4" fill="none">
<path d="M938 905.6H1630.5"/>
<path d="M938 865.6H1630.5"/>
<path d="M938 825.6H1630.5"/>
<path d="M938 785.6H1630.5"/>
<path d="M938 745.6H1630.5"/>
<path d="M938 705.6H1630.5"/>
<path d="M938 665.6H1630.5"/>
<path d="M938 625.6H1630.5"/>
<path d="M938 585.6H1630.5"/>
<path d="M938 545.6H1630.5"/>
<path d="M1017.8 539.9V905.7"/>
<path d="M1098.1 539.9V905.7"/>
<path d="M1178.5 539.9V905.7"/>
<path d="M1258.8 539.9V905.7"/>
<path d="M1339.1 539.9V905.7"/>
<path d="M1419.4 539.9V905.7"/>
<path d="M1499.7 539.9V905.7"/>
<path d="M1580.1 539.9V905.7"/>
</g>
<rect x="960.1" y="563" width="250.9" height="174" fill="#fff"/>
<g stroke="#123634" stroke-width="1.55">
<path d="M931.8 897.6H938"/>
<path d="M931.8 889.6H938"/>
<path d="M931.8 881.6H938"/>
<path d="M931.8 873.6H938"/>
<path d="M931.8 857.6H938"/>
<path d="M931.8 849.6H938"/>
<path d="M931.8 841.6H938"/>
<path d="M931.8 833.6H938"/>
<path d="M931.8 817.6H938"/>
<path d="M931.8 809.6H938"/>
<path d="M931.8 801.6H938"/>
<path d="M931.8 793.6H938"/>
<path d="M931.8 777.6H938"/>
<path d="M931.8 769.6H938"/>
<path d="M931.8 761.6H938"/>
<path d="M931.8 753.6H938"/>
<path d="M931.8 737.6H938"/>
<path d="M931.8 729.6H938"/>
<path d="M931.8 721.6H938"/>
<path d="M931.8 713.6H938"/>
<path d="M931.8 697.6H938"/>
<path d="M931.8 689.6H938"/>
<path d="M931.8 681.6H938"/>
<path d="M931.8 673.6H938"/>
<path d="M931.8 657.6H938"/>
<path d="M931.8 649.6H938"/>
<path d="M931.8 641.6H938"/>
<path d="M931.8 633.6H938"/>
<path d="M931.8 617.6H938"/>
<path d="M931.8 609.6H938"/>
<path d="M931.8 601.6H938"/>
<path d="M931.8 593.6H938"/>
<path d="M931.8 577.6H938"/>
<path d="M931.8 569.6H938"/>
<path d="M931.8 561.6H938"/>
<path d="M931.8 553.6H938"/>
<path d="M953.6 905.7V911.2"/>
<path d="M969.6 905.7V911.2"/>
<path d="M985.7 905.7V911.2"/>
<path d="M1001.8 905.7V911.2"/>
<path d="M1033.9 905.7V911.2"/>
<path d="M1049.9 905.7V911.2"/>
<path d="M1066 905.7V911.2"/>
<path d="M1082.1 905.7V911.2"/>
<path d="M1114.2 905.7V911.2"/>
<path d="M1130.3 905.7V911.2"/>
<path d="M1146.3 905.7V911.2"/>
<path d="M1162.4 905.7V911.2"/>
<path d="M1194.5 905.7V911.2"/>
<path d="M1210.6 905.7V911.2"/>
<path d="M1226.7 905.7V911.2"/>
<path d="M1242.7 905.7V911.2"/>
<path d="M1274.8 905.7V911.2"/>
<path d="M1290.9 905.7V911.2"/>
<path d="M1307 905.7V911.2"/>
<path d="M1323 905.7V911.2"/>
<path d="M1355.2 905.7V911.2"/>
<path d="M1371.2 905.7V911.2"/>
<path d="M1387.3 905.7V911.2"/>
<path d="M1403.4 905.7V911.2"/>
<path d="M1435.5 905.7V911.2"/>
<path d="M1451.5 905.7V911.2"/>
<path d="M1467.6 905.7V911.2"/>
<path d="M1483.7 905.7V911.2"/>
<path d="M1515.8 905.7V911.2"/>
<path d="M1531.9 905.7V911.2"/>
<path d="M1547.9 905.7V911.2"/>
<path d="M1564 905.7V911.2"/>
<path d="M1596.1 905.7V911.2"/>
<path d="M1612.2 905.7V911.2"/>
<path d="M1628.3 905.7V911.2"/>
</g>
<g stroke="#000" stroke-width="1.7">
<path d="M928.5 905.6H938"/>
<path d="M928.5 865.6H938"/>
<path d="M928.5 825.6H938"/>
<path d="M928.5 785.6H938"/>
<path d="M928.5 745.6H938"/>
<path d="M928.5 705.6H938"/>
<path d="M928.5 665.6H938"/>
<path d="M928.5 625.6H938"/>
<path d="M928.5 585.6H938"/>
<path d="M928.5 545.6H938"/>
<path d="M937.5 905.7V913.7"/>
<path d="M1017.8 905.7V913.7"/>
<path d="M1098.1 905.7V913.7"/>
<path d="M1178.5 905.7V913.7"/>
<path d="M1258.8 905.7V913.7"/>
<path d="M1339.1 905.7V913.7"/>
<path d="M1419.4 905.7V913.7"/>
<path d="M1499.7 905.7V913.7"/>
<path d="M1580.1 905.7V913.7"/>
</g>
<g fill="#000" stroke="#000" stroke-width="0.2" font-family="'Liberation Sans', Arial, sans-serif" font-size="15.2">
<text x="927.2" y="911.1" text-anchor="end">0</text>
<text x="927.2" y="871.1" text-anchor="end">100</text>
<text x="927.2" y="831.1" text-anchor="end">200</text>
<text x="927.2" y="791.1" text-anchor="end">300</text>
<text x="927.2" y="751.1" text-anchor="end">400</text>
<text x="927.2" y="711.1" text-anchor="end">500</text>
<text x="927.2" y="671.1" text-anchor="end">600</text>
<text x="927.2" y="631.1" text-anchor="end">700</text>
<text x="927.2" y="591.1" text-anchor="end">800</text>
<text x="927.2" y="551.1" text-anchor="end">900</text>
<text x="937.5" y="930" text-anchor="middle">0</text>
<text x="1017.8" y="930" text-anchor="middle">200</text>
<text x="1098.1" y="930" text-anchor="middle">400</text>
<text x="1178.5" y="930" text-anchor="middle">600</text>
<text x="1258.8" y="930" text-anchor="middle">800</text>
<text x="1339.1" y="930" text-anchor="middle">1,000</text>
<text x="1419.4" y="930" text-anchor="middle">1,200</text>
<text x="1499.7" y="930" text-anchor="middle">1,400</text>
<text x="1580.1" y="930" text-anchor="middle">1,600</text>
</g>
<text x="1284.1" y="957.8" text-anchor="middle" font-family="'Liberation Sans', Arial, sans-serif" font-size="15.6" fill="#151515" stroke="#151515" stroke-width="0.15">Z′ (Ω·cm<tspan font-size="10.8" dy="-5.6">2</tspan><tspan dy="5.6">)</tspan></text>
<text transform="translate(886.5 731.4) rotate(-90)" text-anchor="middle" font-family="'Liberation Sans', Arial, sans-serif" font-size="15.6" fill="#151515" stroke="#151515" stroke-width="0.15">Z″ (Ω·cm<tspan font-size="10.8" dy="-5.6">2</tspan><tspan dy="5.6">)</tspan></text>
<text x="913.5" y="524.4" font-family="'Liberation Serif', 'Times New Roman', serif" font-size="22" font-weight="bold" fill="#111">d</text>
<g fill="#ee1111" stroke="#000" stroke-width="1.2">
<circle cx="962" cy="901.2" r="3.6"/>
<circle cx="962.1" cy="900.8" r="3.6"/>
<circle cx="962.2" cy="900.3" r="3.6"/>
<circle cx="962.2" cy="899.8" r="3.6"/>
<circle cx="962.3" cy="899.4" r="3.6"/>
<circle cx="962.4" cy="898.9" r="3.6"/>
<circle cx="962.5" cy="898.4" r="3.6"/>
<circle cx="962.6" cy="897.9" r="3.6"/>
<circle cx="962.7" cy="897.5" r="3.6"/>
<circle cx="962.9" cy="897" r="3.6"/>
<circle cx="963.1" cy="896.5" r="3.6"/>
<circle cx="963.3" cy="896" r="3.6"/>
<circle cx="963.6" cy="895.5" r="3.6"/>
<circle cx="963.9" cy="895" r="3.6"/>
<circle cx="964.2" cy="894.6" r="3.6"/>
<circle cx="964.5" cy="894.1" r="3.6"/>
<circle cx="964.8" cy="893.6" r="3.6"/>
<circle cx="965.2" cy="893.1" r="3.6"/>
<circle cx="965.5" cy="892.7" r="3.6"/>
<circle cx="965.9" cy="892.2" r="3.6"/>
<circle cx="966.3" cy="891.7" r="3.6"/>
<circle cx="966.7" cy="891.2" r="3.6"/>
<circle cx="967.1" cy="890.7" r="3.6"/>
<circle cx="967.6" cy="890.2" r="3.6"/>
<circle cx="968" cy="889.7" r="3.6"/>
<circle cx="968.5" cy="889.2" r="3.6"/>
<circle cx="968.9" cy="888.7" r="3.6"/>
<circle cx="969.3" cy="888.1" r="3.6"/>
<circle cx="969.8" cy="887.5" r="3.6"/>
<circle cx="970.2" cy="886.8" r="3.6"/>
<circle cx="970.7" cy="886.1" r="3.6"/>
<circle cx="971.2" cy="885.3" r="3.6"/>
<circle cx="971.7" cy="884.4" r="3.6"/>
<circle cx="972.2" cy="883.5" r="3.6"/>
<circle cx="972.8" cy="882.5" r="3.6"/>
<circle cx="973.5" cy="881.5" r="3.6"/>
<circle cx="974.2" cy="880.3" r="3.6"/>
<circle cx="975" cy="879.2" r="3.6"/>
<circle cx="975.9" cy="877.9" r="3.6"/>
<circle cx="977" cy="876.6" r="3.6"/>
<circle cx="978.1" cy="875.2" r="3.6"/>
<circle cx="979.3" cy="873.7" r="3.6"/>
<circle cx="980.6" cy="872.1" r="3.6"/>
<circle cx="981.9" cy="870.4" r="3.6"/>
<circle cx="983.4" cy="868.6" r="3.6"/>
<circle cx="984.9" cy="866.8" r="3.6"/>
<circle cx="986.4" cy="864.9" r="3.6"/>
<circle cx="988.1" cy="862.9" r="3.6"/>
<circle cx="990" cy="861" r="3.6"/>
<circle cx="991.9" cy="859" r="3.6"/>
<circle cx="993.9" cy="856.9" r="3.6"/>
<circle cx="996.1" cy="854.8" r="3.6"/>
<circle cx="998.4" cy="852.6" r="3.6"/>
<circle cx="1000.8" cy="850.5" r="3.6"/>
<circle cx="1003.4" cy="848.2" r="3.6"/>
<circle cx="1006.1" cy="846" r="3.6"/>
<circle cx="1009" cy="843.8" r="3.6"/>
<circle cx="1012" cy="841.4" r="3.6"/>
<circle cx="1015.2" cy="839.2" r="3.6"/>
<circle cx="1018.7" cy="836.9" r="3.6"/>
<circle cx="1022.3" cy="834.6" r="3.6"/>
<circle cx="1026" cy="832.2" r="3.6"/>
<circle cx="1030" cy="829.9" r="3.6"/>
<circle cx="1034.3" cy="827.8" r="3.6"/>
<circle cx="1038.8" cy="825.6" r="3.6"/>
<circle cx="1043.5" cy="823.4" r="3.6"/>
<circle cx="1048.3" cy="821.2" r="3.6"/>
<circle cx="1053.2" cy="818.9" r="3.6"/>
<circle cx="1058.2" cy="816.6" r="3.6"/>
<circle cx="1063.2" cy="814.4" r="3.6"/>
<circle cx="1068.4" cy="812.3" r="3.6"/>
<circle cx="1073.7" cy="810.7" r="3.6"/>
<circle cx="1079.2" cy="809.3" r="3.6"/>
<circle cx="1084.7" cy="808" r="3.6"/>
<circle cx="1090.3" cy="806.8" r="3.6"/>
<circle cx="1095.9" cy="805.6" r="3.6"/>
<circle cx="1101.5" cy="804.3" r="3.6"/>
<circle cx="1107.2" cy="803.2" r="3.6"/>
<circle cx="1112.9" cy="802" r="3.6"/>
<circle cx="1118.8" cy="801" r="3.6"/>
<circle cx="1124.6" cy="800.1" r="3.6"/>
<circle cx="1130.6" cy="799.4" r="3.6"/>
<circle cx="1136.5" cy="798.7" r="3.6"/>
<circle cx="1142.6" cy="798" r="3.6"/>
<circle cx="1148.6" cy="797.6" r="3.6"/>
<circle cx="1154.8" cy="797.2" r="3.6"/>
<circle cx="1161" cy="797.1" r="3.6"/>
<circle cx="1167.2" cy="796.9" r="3.6"/>
<circle cx="1173.3" cy="796.6" r="3.6"/>
<circle cx="1179.5" cy="796.3" r="3.6"/>
<circle cx="1185.7" cy="796.1" r="3.6"/>
<circle cx="1191.9" cy="796" r="3.6"/>
<circle cx="1198.1" cy="796.1" r="3.6"/>
<circle cx="1204.3" cy="796.3" r="3.6"/>
<circle cx="1210.5" cy="796.5" r="3.6"/>
<circle cx="1216.7" cy="796.7" r="3.6"/>
<circle cx="1222.9" cy="796.8" r="3.6"/>
<circle cx="1229.1" cy="796.9" r="3.6"/>
<circle cx="1235.3" cy="796.9" r="3.6"/>
<circle cx="1241.5" cy="796.9" r="3.6"/>
<circle cx="1247.7" cy="796.8" r="3.6"/>
<circle cx="1253.9" cy="796.7" r="3.6"/>
<circle cx="1260.1" cy="796.6" r="3.6"/>
<circle cx="1266.3" cy="796.3" r="3.6"/>
<circle cx="1272.5" cy="796" r="3.6"/>
<circle cx="1278.7" cy="795.7" r="3.6"/>
<circle cx="1285" cy="795.4" r="3.6"/>
<circle cx="1291.3" cy="795" r="3.6"/>
<circle cx="1297.7" cy="794.6" r="3.6"/>
<circle cx="1304.1" cy="794.4" r="3.6"/>
<circle cx="1310.7" cy="794.6" r="3.6"/>
<circle cx="1317.3" cy="794.5" r="3.6"/>
<circle cx="1324" cy="794.2" r="3.6"/>
<circle cx="1330.8" cy="793.8" r="3.6"/>
<circle cx="1337.5" cy="792.5" r="3.6"/>
<circle cx="1344.3" cy="791.1" r="3.6"/>
<circle cx="1351.1" cy="789.8" r="3.6"/>
<circle cx="1358.1" cy="788.3" r="3.6"/>
<circle cx="1365" cy="786.7" r="3.6"/>
<circle cx="1372.1" cy="785.1" r="3.6"/>
<circle cx="1379.2" cy="783.5" r="3.6"/>
<circle cx="1386.4" cy="781.4" r="3.6"/>
<circle cx="1393.5" cy="779.1" r="3.6"/>
<circle cx="1400.6" cy="776.7" r="3.6"/>
<circle cx="1407.9" cy="774.1" r="3.6"/>
<circle cx="1415.2" cy="771.6" r="3.6"/>
<circle cx="1422.6" cy="768.9" r="3.6"/>
<circle cx="1430.1" cy="766.2" r="3.6"/>
<circle cx="1437.7" cy="763.3" r="3.6"/>
<circle cx="1445.3" cy="760.3" r="3.6"/>
<circle cx="1453" cy="757.2" r="3.6"/>
<circle cx="1460.8" cy="754.2" r="3.6"/>
<circle cx="1468.8" cy="751.2" r="3.6"/>
<circle cx="1476.9" cy="748.2" r="3.6"/>
<circle cx="1484.7" cy="744.5" r="3.6"/>
<circle cx="1492.9" cy="741.3" r="3.6"/>
<circle cx="1509.4" cy="736.4" r="3.6"/>
<circle cx="1517.9" cy="731.8" r="3.6"/>
</g>
<g fill="#22ee44" stroke="#000" stroke-width="1.2">
<rect x="961.9" y="898.4" width="6.2" height="6.2"/>
<rect x="962" y="898" width="6.2" height="6.2"/>
<rect x="962.1" y="897.5" width="6.2" height="6.2"/>
<rect x="962.1" y="897" width="6.2" height="6.2"/>
<rect x="962.2" y="896.6" width="6.2" height="6.2"/>
<rect x="962.3" y="896.1" width="6.2" height="6.2"/>
<rect x="962.4" y="895.6" width="6.2" height="6.2"/>
<rect x="962.5" y="895.1" width="6.2" height="6.2"/>
<rect x="962.6" y="894.7" width="6.2" height="6.2"/>
<rect x="962.8" y="894.2" width="6.2" height="6.2"/>
<rect x="963" y="893.7" width="6.2" height="6.2"/>
<rect x="963.2" y="893.2" width="6.2" height="6.2"/>
<rect x="963.5" y="892.7" width="6.2" height="6.2"/>
<rect x="963.8" y="892.2" width="6.2" height="6.2"/>
<rect x="964.1" y="891.8" width="6.2" height="6.2"/>
<rect x="964.4" y="891.3" width="6.2" height="6.2"/>
<rect x="964.7" y="890.8" width="6.2" height="6.2"/>
<rect x="965.1" y="890.4" width="6.2" height="6.2"/>
<rect x="965.4" y="889.9" width="6.2" height="6.2"/>
<rect x="965.8" y="889.4" width="6.2" height="6.2"/>
<rect x="966.2" y="888.9" width="6.2" height="6.2"/>
<rect x="966.6" y="888.4" width="6.2" height="6.2"/>
<rect x="967" y="888" width="6.2" height="6.2"/>
<rect x="967.5" y="887.5" width="6.2" height="6.2"/>
<rect x="967.9" y="887" width="6.2" height="6.2"/>
<rect x="968.3" y="886.5" width="6.2" height="6.2"/>
<rect x="968.8" y="885.9" width="6.2" height="6.2"/>
<rect x="969.2" y="885.4" width="6.2" height="6.2"/>
<rect x="969.6" y="884.8" width="6.2" height="6.2"/>
<rect x="970.1" y="884.1" width="6.2" height="6.2"/>
<rect x="970.5" y="883.4" width="6.2" height="6.2"/>
<rect x="971" y="882.6" width="6.2" height="6.2"/>
<rect x="971.5" y="881.8" width="6.2" height="6.2"/>
<rect x="972" y="880.9" width="6.2" height="6.2"/>
<rect x="972.6" y="879.9" width="6.2" height="6.2"/>
<rect x="973.2" y="878.9" width="6.2" height="6.2"/>
<rect x="973.9" y="877.8" width="6.2" height="6.2"/>
<rect x="974.7" y="876.7" width="6.2" height="6.2"/>
<rect x="975.6" y="875.5" width="6.2" height="6.2"/>
<rect x="976.6" y="874.2" width="6.2" height="6.2"/>
<rect x="977.6" y="872.8" width="6.2" height="6.2"/>
<rect x="978.8" y="871.4" width="6.2" height="6.2"/>
<rect x="980" y="869.9" width="6.2" height="6.2"/>
<rect x="981.3" y="868.2" width="6.2" height="6.2"/>
<rect x="982.7" y="866.5" width="6.2" height="6.2"/>
<rect x="984.1" y="864.6" width="6.2" height="6.2"/>
<rect x="985.6" y="862.7" width="6.2" height="6.2"/>
<rect x="987.1" y="860.7" width="6.2" height="6.2"/>
<rect x="988.8" y="858.7" width="6.2" height="6.2"/>
<rect x="990.7" y="856.7" width="6.2" height="6.2"/>
<rect x="992.6" y="854.7" width="6.2" height="6.2"/>
<rect x="994.6" y="852.6" width="6.2" height="6.2"/>
<rect x="996.8" y="850.4" width="6.2" height="6.2"/>
<rect x="999" y="848.2" width="6.2" height="6.2"/>
<rect x="1001.5" y="846" width="6.2" height="6.2"/>
<rect x="1004.2" y="843.8" width="6.2" height="6.2"/>
<rect x="1007" y="841.6" width="6.2" height="6.2"/>
<rect x="1009.9" y="839.4" width="6.2" height="6.2"/>
<rect x="1013" y="837.1" width="6.2" height="6.2"/>
<rect x="1016.4" y="835" width="6.2" height="6.2"/>
<rect x="1019.9" y="832.7" width="6.2" height="6.2"/>
<rect x="1023.5" y="830.4" width="6.2" height="6.2"/>
<rect x="1027.3" y="828.1" width="6.2" height="6.2"/>
<rect x="1031.4" y="826" width="6.2" height="6.2"/>
<rect x="1035.8" y="824" width="6.2" height="6.2"/>
<rect x="1040.4" y="822" width="6.2" height="6.2"/>
<rect x="1045.2" y="820.1" width="6.2" height="6.2"/>
<rect x="1050.2" y="818.1" width="6.2" height="6.2"/>
<rect x="1055.3" y="816.1" width="6.2" height="6.2"/>
<rect x="1060.4" y="814.2" width="6.2" height="6.2"/>
<rect x="1065.6" y="812.4" width="6.2" height="6.2"/>
<rect x="1070.9" y="810.8" width="6.2" height="6.2"/>
<rect x="1076.3" y="809.3" width="6.2" height="6.2"/>
<rect x="1081.7" y="808" width="6.2" height="6.2"/>
<rect x="1087.3" y="806.8" width="6.2" height="6.2"/>
<rect x="1092.8" y="805.6" width="6.2" height="6.2"/>
<rect x="1098.4" y="804.3" width="6.2" height="6.2"/>
<rect x="1104.1" y="803.2" width="6.2" height="6.2"/>
<rect x="1109.8" y="802" width="6.2" height="6.2"/>
<rect x="1115.6" y="801" width="6.2" height="6.2"/>
<rect x="1121.4" y="800.1" width="6.2" height="6.2"/>
<rect x="1127.3" y="799.4" width="6.2" height="6.2"/>
<rect x="1133.2" y="798.6" width="6.2" height="6.2"/>
<rect x="1139.2" y="798" width="6.2" height="6.2"/>
<rect x="1145.2" y="797.5" width="6.2" height="6.2"/>
<rect x="1151.3" y="797.2" width="6.2" height="6.2"/>
<rect x="1157.4" y="796.9" width="6.2" height="6.2"/>
<rect x="1163.6" y="796.8" width="6.2" height="6.2"/>
<rect x="1169.8" y="796.8" width="6.2" height="6.2"/>
<rect x="1176" y="796.8" width="6.2" height="6.2"/>
<rect x="1182.2" y="796.8" width="6.2" height="6.2"/>
<rect x="1188.4" y="796.8" width="6.2" height="6.2"/>
<rect x="1194.6" y="796.8" width="6.2" height="6.2"/>
<rect x="1200.8" y="796.8" width="6.2" height="6.2"/>
<rect x="1207" y="796.8" width="6.2" height="6.2"/>
<rect x="1213.2" y="796.8" width="6.2" height="6.2"/>
<rect x="1219.4" y="796.8" width="6.2" height="6.2"/>
<rect x="1225.6" y="796.8" width="6.2" height="6.2"/>
<rect x="1231.8" y="796.8" width="6.2" height="6.2"/>
<rect x="1238" y="796.8" width="6.2" height="6.2"/>
<rect x="1244.2" y="796.7" width="6.2" height="6.2"/>
<rect x="1250.4" y="796.6" width="6.2" height="6.2"/>
<rect x="1256.6" y="796.5" width="6.2" height="6.2"/>
<rect x="1262.8" y="796.3" width="6.2" height="6.2"/>
<rect x="1269" y="796" width="6.2" height="6.2"/>
<rect x="1275.2" y="795.7" width="6.2" height="6.2"/>
<rect x="1281.4" y="795.4" width="6.2" height="6.2"/>
<rect x="1287.6" y="795" width="6.2" height="6.2"/>
<rect x="1293.9" y="794.5" width="6.2" height="6.2"/>
<rect x="1300.2" y="794" width="6.2" height="6.2"/>
<rect x="1306.7" y="793.4" width="6.2" height="6.2"/>
<rect x="1313.1" y="792.7" width="6.2" height="6.2"/>
<rect x="1319.6" y="791.6" width="6.2" height="6.2"/>
<rect x="1326.2" y="790.3" width="6.2" height="6.2"/>
<rect x="1332.8" y="789.1" width="6.2" height="6.2"/>
<rect x="1339.4" y="787.8" width="6.2" height="6.2"/>
<rect x="1346.2" y="786.4" width="6.2" height="6.2"/>
<rect x="1353" y="785" width="6.2" height="6.2"/>
<rect x="1359.8" y="783.4" width="6.2" height="6.2"/>
<rect x="1366.8" y="781.9" width="6.2" height="6.2"/>
<rect x="1373.8" y="780.3" width="6.2" height="6.2"/>
<rect x="1380.8" y="778.4" width="6.2" height="6.2"/>
<rect x="1387.8" y="776.2" width="6.2" height="6.2"/>
<rect x="1394.9" y="773.8" width="6.2" height="6.2"/>
<rect x="1401.9" y="771.4" width="6.2" height="6.2"/>
<rect x="1409.1" y="768.8" width="6.2" height="6.2"/>
<rect x="1416.4" y="766.3" width="6.2" height="6.2"/>
<rect x="1423.7" y="763.7" width="6.2" height="6.2"/>
<rect x="1431.1" y="760.9" width="6.2" height="6.2"/>
<rect x="1438.6" y="757.9" width="6.2" height="6.2"/>
<rect x="1446.1" y="754.9" width="6.2" height="6.2"/>
<rect x="1453.8" y="752" width="6.2" height="6.2"/>
<rect x="1461.5" y="749" width="6.2" height="6.2"/>
<rect x="1469.4" y="746" width="6.2" height="6.2"/>
<rect x="1477.3" y="742.9" width="6.2" height="6.2"/>
<rect x="1485" y="739" width="6.2" height="6.2"/>
<rect x="1492.7" y="734.8" width="6.2" height="6.2"/>
<rect x="1500.4" y="730.4" width="6.2" height="6.2"/>
</g>
<g fill="#2a2ac8" font-family="'Liberation Sans', Arial, sans-serif" font-size="13.5" letter-spacing="0.85" stroke="#2a2ac8" stroke-width="0.25">
<text x="945" y="873">412</text>
<text x="989" y="892">376</text>
<text x="961.5" y="852.5">200</text>
<text x="1008" y="872.5">140</text>
<text x="985" y="832">107</text>
<text x="1037.5" y="852.5">56.8</text>
<text x="1023.5" y="810">47.4</text>
<text x="1079" y="834">27.6</text>
<text x="1069" y="794">25.2</text>
<text x="1123.5" y="826">13.4</text>
<text x="1111.5" y="787.5">14.7</text>
<text x="1162.5" y="822.5">7.83</text>
<text x="1149" y="785.5">9.38</text>
<text x="1208" y="822.5">3.81</text>
<text x="1195" y="783">4.99</text>
<text x="1254" y="822.5">2.03</text>
<text x="1236.5" y="783.5">2.66</text>
<text x="1301" y="821">902m</text>
<text x="1276.5" y="784">1.42</text>
<text x="1349" y="814.5">480m</text>
<text x="1315" y="779.5">689m</text>
<text x="1402.5" y="798.5">234m</text>
<text x="1362.5" y="765">306m</text>
<text x="1463" y="775.5">124m</text>
<text x="1410.5" y="750">163m</text>
<text x="1514" y="757">79.3m</text>
<text x="1459" y="731">104m</text>
</g>
<path d="M937 905.7H1631.9" stroke="#303030" stroke-width="3.2" fill="none"/>
<path d="M939.4 905.7H1629.1" stroke="#cfcfcf" stroke-width="1" fill="none"/>
<path d="M938 907.3V539.9H1630.5V907.3" stroke="#000" stroke-width="2.9" fill="none" stroke-linejoin="miter"/>
<circle cx="1478.4" cy="567.5" r="4.1" fill="#ee1111" stroke="#000" stroke-width="1.3"/>
<rect x="1475.9" y="594.2" width="7.2" height="7.2" fill="#22ee44" stroke="#000" stroke-width="1.4"/>
<g font-family="'Liberation Sans', Arial, sans-serif" font-size="16" fill="#111"><text x="1502" y="574.9">Experimental</text><text x="1502.5" y="602.3">Fitted</text></g>
<path d="M968.5 640.1H988.1M1009.8 640.1H1028.1M1028.1 679.9V599.9H1098.1M1107.8 599.9H1188V679.9M1188 640.1H1207.8M1028.1 679.9H1048.4M1069.9 679.9H1087.6M1167.8 679.9H1188M1122.9 659.5H1087.6V700.2H1098.1M1118.7 700.2H1137.8M1137.8 694.7H1158.7V705.3H1137.8ZM1158.7 700.2H1167.8V659.5H1132.8" fill="none" stroke="#1a1a1a" stroke-width="1.25" stroke-linejoin="miter"/>
<path d="M988.1 640.1L989.5 636.5L992.2 643.7L994.9 636.5L997.6 643.7L1000.3 636.5L1003 643.7L1005.7 636.5L1008.4 643.7L1009.8 640.1M1048.4 679.9L1049.7 676.3L1052.4 683.5L1055.1 676.3L1057.8 683.5L1060.5 676.3L1063.2 683.5L1065.9 676.3L1068.6 683.5L1069.9 679.9M1098.1 700.2L1099.4 696.6L1102 703.8L1104.5 696.6L1107.1 703.8L1109.7 696.6L1112.3 703.8L1114.8 696.6L1117.4 703.8L1118.7 700.2" fill="none" stroke="#111" stroke-width="1.5" stroke-linejoin="miter"/>
<path d="M1098.1 589.9V609.9M1107.8 589.9V609.9M1122.9 649.5V669.5M1132.8 649.5V669.5" fill="none" stroke="#1a1a1a" stroke-width="1.45"/>
<text x="1090" y="585.3" font-family="'Liberation Serif', 'Times New Roman', serif" font-size="14.3" fill="#111">CPE<tspan font-size="8" dy="3">f</tspan></text>
<text x="992.8" y="627.9" font-family="'Liberation Serif', 'Times New Roman', serif" font-size="14.3" fill="#111">R<tspan font-size="8" dy="3">s</tspan></text>
<text x="1113" y="644.9" font-family="'Liberation Serif', 'Times New Roman', serif" font-size="14.3" fill="#111">CPE<tspan font-size="8" dy="3">dl</tspan></text>
<text x="1052.9" y="699.7" font-family="'Liberation Serif', 'Times New Roman', serif" font-size="14.3" fill="#111">R<tspan font-size="8" dy="3">f</tspan></text>
<text x="1103.3" y="718.5" font-family="'Liberation Serif', 'Times New Roman', serif" font-size="14.3" fill="#111">R<tspan font-size="8" dy="3">t</tspan></text>
<text x="1142.5" y="718" font-family="'Liberation Serif', 'Times New Roman', serif" font-size="14.3" fill="#111">W<tspan font-size="8" dy="3"></tspan></text>
</svg>
</body></html>
